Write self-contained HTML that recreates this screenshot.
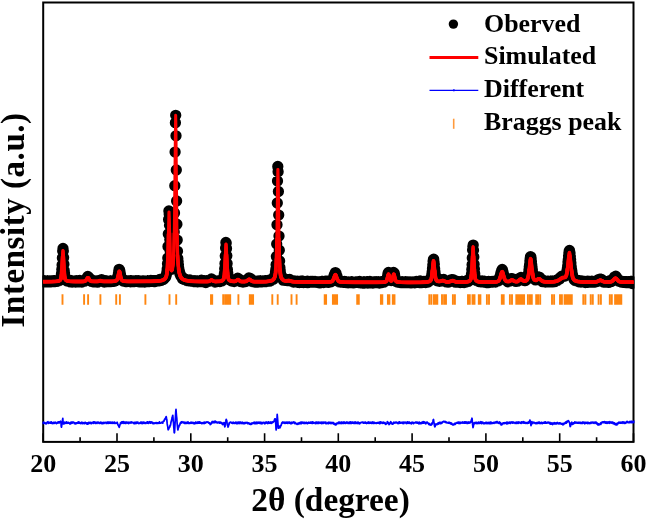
<!DOCTYPE html>
<html><head><meta charset="utf-8"><title>XRD Rietveld refinement</title>
<style>html,body{margin:0;padding:0;background:#fff;overflow:hidden;}svg{display:block;}</style></head>
<body><svg width="646" height="519" viewBox="0 0 646 519" font-family="'Liberation Serif','Times New Roman',serif" font-weight="bold" fill="#000">
<defs><clipPath id="plot"><rect x="42.4" y="1.5" width="592.1" height="441"/></clipPath></defs>
<rect width="646" height="519" fill="#fff"/>
<rect x="43.2" y="2.5" width="590.3" height="439.4" fill="none" stroke="#000" stroke-width="2"/>
<path d="M43.2 441.9v-8.7M117.0 441.9v-8.7M190.8 441.9v-8.7M264.6 441.9v-8.7M338.3 441.9v-8.7M412.1 441.9v-8.7M485.9 441.9v-8.7M559.7 441.9v-8.7M633.5 441.9v-8.7M80.1 441.9v-4.7M153.9 441.9v-4.7M227.7 441.9v-4.7M301.5 441.9v-4.7M375.2 441.9v-4.7M449.0 441.9v-4.7M522.8 441.9v-4.7M596.6 441.9v-4.7" stroke="#000" stroke-width="1.6" fill="none"/>
<g clip-path="url(#plot)">
<path d="M62.5 294.3V304.8M84.1 294.3V304.8M88.1 294.3V304.8M100.4 294.3V304.8M116.2 294.3V304.8M119.9 294.3V304.8M145.4 294.3V304.8M169.5 294.3V304.8M176.2 294.3V304.8M211.0 294.3V304.8M212.2 294.3V304.8M223.2 294.3V304.8M225.2 294.3V304.8M226.6 294.3V304.8M228.3 294.3V304.8M230.2 294.3V304.8M238.4 294.3V304.8M249.8 294.3V304.8M251.5 294.3V304.8M253.1 294.3V304.8M272.3 294.3V304.8M277.7 294.3V304.8M291.5 294.3V304.8M296.6 294.3V304.8M324.7 294.3V304.8M326.1 294.3V304.8M332.9 294.3V304.8M334.5 294.3V304.8M336.0 294.3V304.8M337.1 294.3V304.8M357.2 294.3V304.8M358.8 294.3V304.8M380.9 294.3V304.8M382.3 294.3V304.8M387.9 294.3V304.8M389.4 294.3V304.8M392.8 294.3V304.8M394.5 294.3V304.8M429.3 294.3V304.8M431.4 294.3V304.8M433.9 294.3V304.8M435.5 294.3V304.8M437.3 294.3V304.8M442.0 294.3V304.8M444.1 294.3V304.8M446.0 294.3V304.8M452.9 294.3V304.8M454.9 294.3V304.8M468.0 294.3V304.8M469.8 294.3V304.8M472.5 294.3V304.8M473.5 294.3V304.8M474.5 294.3V304.8M478.8 294.3V304.8M480.4 294.3V304.8M486.9 294.3V304.8M489.0 294.3V304.8M501.8 294.3V304.8M503.7 294.3V304.8M509.9 294.3V304.8M512.0 294.3V304.8M516.3 294.3V304.8M517.5 294.3V304.8M519.4 294.3V304.8M521.0 294.3V304.8M522.5 294.3V304.8M524.1 294.3V304.8M527.9 294.3V304.8M529.9 294.3V304.8M531.8 294.3V304.8M536.2 294.3V304.8M538.1 294.3V304.8M540.2 294.3V304.8M552.0 294.3V304.8M554.1 294.3V304.8M560.0 294.3V304.8M561.9 294.3V304.8M564.6 294.3V304.8M566.5 294.3V304.8M568.1 294.3V304.8M569.9 294.3V304.8M571.8 294.3V304.8M583.3 294.3V304.8M585.4 294.3V304.8M590.7 294.3V304.8M592.8 294.3V304.8M598.6 294.3V304.8M600.9 294.3V304.8M609.8 294.3V304.8M611.8 294.3V304.8M615.1 294.3V304.8M616.7 294.3V304.8M618.2 294.3V304.8M619.8 294.3V304.8M621.3 294.3V304.8" stroke="#ff8610" stroke-width="1.9" fill="none"/>
<path d="M43.2 281.8h0M43.5 281.2h0M43.8 281.7h0M44.1 281.1h0M44.4 281.3h0M44.7 281.1h0M45.0 281.1h0M45.3 281.3h0M45.6 281.2h0M45.9 281.8h0M46.2 281.8h0M46.4 281.5h0M46.7 281.2h0M47.0 281.8h0M47.3 280.8h0M47.6 280.9h0M47.9 281.8h0M48.2 281.8h0M48.5 281.9h0M48.8 281.5h0M49.1 281.1h0M49.4 281.3h0M49.7 281.7h0M50.0 281.2h0M50.3 281.2h0M50.6 281.0h0M50.9 281.1h0M51.2 281.8h0M51.5 281.6h0M51.8 281.0h0M52.1 281.1h0M52.3 281.2h0M52.6 281.6h0M52.9 281.0h0M53.2 281.3h0M53.5 280.6h0M53.8 280.9h0M54.1 281.5h0M54.4 281.6h0M54.7 280.9h0M55.0 281.0h0M55.3 281.5h0M55.6 281.1h0M55.9 281.0h0M56.2 281.3h0M56.5 281.2h0M56.8 281.4h0M57.1 281.3h0M57.4 280.7h0M57.7 280.8h0M58.0 280.8h0M58.3 280.2h0M58.5 280.2h0M58.8 280.8h0M59.1 279.7h0M59.4 280.4h0M59.7 279.9h0M60.0 279.4h0M60.3 279.2h0M60.6 278.6h0M60.9 277.9h0M61.2 275.9h0M61.5 273.4h0M61.8 269.6h0M62.1 264.9h0M62.4 257.9h0M62.7 251.0h0M63.0 248.5h0M63.3 251.1h0M63.6 257.6h0M63.9 264.3h0M64.2 270.5h0M64.5 272.9h0M64.7 276.3h0M65.0 277.7h0M65.3 278.2h0M65.6 279.0h0M65.9 279.3h0M66.2 279.8h0M66.5 280.4h0M66.8 279.7h0M67.1 280.9h0M67.4 280.4h0M67.7 281.2h0M68.0 280.9h0M68.3 281.3h0M68.6 281.1h0M68.9 281.3h0M69.2 281.0h0M69.5 280.8h0M69.8 281.3h0M70.1 281.4h0M70.4 281.9h0M70.6 280.5h0M70.9 281.2h0M71.2 281.6h0M71.5 280.8h0M71.8 281.2h0M72.1 282.0h0M72.4 281.8h0M72.7 281.0h0M73.0 281.8h0M73.3 281.8h0M73.6 281.6h0M73.9 281.5h0M74.2 281.5h0M74.5 281.1h0M74.8 281.2h0M75.1 281.6h0M75.4 281.4h0M75.7 282.0h0M76.0 281.3h0M76.3 280.6h0M76.6 281.3h0M76.8 281.5h0M77.1 281.5h0M77.4 281.4h0M77.7 281.1h0M78.0 281.9h0M78.3 281.2h0M78.6 281.7h0M78.9 281.3h0M79.2 281.0h0M79.5 281.9h0M79.8 280.5h0M80.1 281.1h0M80.4 281.5h0M80.7 281.2h0M81.0 281.6h0M81.3 281.3h0M81.6 281.2h0M81.9 282.1h0M82.2 281.2h0M82.5 281.2h0M82.8 280.9h0M83.0 281.0h0M83.3 281.4h0M83.6 281.4h0M83.9 281.1h0M84.2 280.8h0M84.5 281.2h0M84.8 280.2h0M85.1 280.5h0M85.4 280.2h0M85.7 279.7h0M86.0 279.6h0M86.3 278.8h0M86.6 278.2h0M86.9 278.5h0M87.2 277.5h0M87.5 277.2h0M87.8 276.5h0M88.1 276.8h0M88.4 277.0h0M88.7 277.7h0M88.9 278.7h0M89.2 278.4h0M89.5 279.1h0M89.8 279.5h0M90.1 278.7h0M90.4 279.8h0M90.7 280.6h0M91.0 281.0h0M91.3 280.7h0M91.6 281.4h0M91.9 281.5h0M92.2 281.0h0M92.5 281.7h0M92.8 281.8h0M93.1 281.4h0M93.4 280.9h0M93.7 281.8h0M94.0 281.2h0M94.3 281.2h0M94.6 281.4h0M94.9 281.1h0M95.1 281.7h0M95.4 281.6h0M95.7 281.8h0M96.0 281.5h0M96.3 281.0h0M96.6 281.3h0M96.9 281.6h0M97.2 281.1h0M97.5 282.2h0M97.8 281.1h0M98.1 280.9h0M98.4 281.4h0M98.7 281.1h0M99.0 280.7h0M99.3 280.5h0M99.6 280.5h0M99.9 280.6h0M100.2 280.5h0M100.5 280.1h0M100.8 280.4h0M101.0 280.7h0M101.3 280.8h0M101.6 279.6h0M101.9 280.5h0M102.2 280.7h0M102.5 281.0h0M102.8 281.2h0M103.1 281.6h0M103.4 281.5h0M103.7 281.3h0M104.0 281.3h0M104.3 282.0h0M104.6 281.1h0M104.9 281.5h0M105.2 281.9h0M105.5 281.5h0M105.8 280.6h0M106.1 281.5h0M106.4 281.2h0M106.7 281.3h0M107.0 281.7h0M107.2 281.5h0M107.5 281.3h0M107.8 281.7h0M108.1 281.5h0M108.4 281.4h0M108.7 281.4h0M109.0 281.4h0M109.3 281.2h0M109.6 281.2h0M109.9 281.3h0M110.2 281.0h0M110.5 280.8h0M110.8 281.7h0M111.1 281.2h0M111.4 281.2h0M111.7 281.2h0M112.0 281.2h0M112.3 281.2h0M112.6 281.2h0M112.9 280.9h0M113.2 281.4h0M113.4 280.8h0M113.7 281.4h0M114.0 280.3h0M114.3 280.6h0M114.6 281.2h0M114.9 280.7h0M115.2 280.5h0M115.5 280.7h0M115.8 280.1h0M116.1 280.3h0M116.4 279.3h0M116.7 279.6h0M117.0 279.0h0M117.3 278.8h0M117.6 278.0h0M117.9 276.2h0M118.2 275.5h0M118.5 273.1h0M118.8 270.8h0M119.1 269.3h0M119.3 270.1h0M119.6 270.1h0M119.9 271.3h0M120.2 273.0h0M120.5 274.6h0M120.8 276.9h0M121.1 277.6h0M121.4 279.2h0M121.7 279.2h0M122.0 278.9h0M122.3 280.3h0M122.6 280.1h0M122.9 280.4h0M123.2 281.1h0M123.5 280.6h0M123.8 281.2h0M124.1 280.8h0M124.4 280.6h0M124.7 281.1h0M125.0 280.8h0M125.3 281.5h0M125.5 281.4h0M125.8 281.1h0M126.1 281.3h0M126.4 281.3h0M126.7 281.1h0M127.0 281.5h0M127.3 281.1h0M127.6 281.4h0M127.9 280.9h0M128.2 281.3h0M128.5 281.4h0M128.8 281.0h0M129.1 281.1h0M129.4 281.1h0M129.7 281.5h0M130.0 281.0h0M130.3 281.4h0M130.6 281.8h0M130.9 281.4h0M131.2 280.7h0M131.4 281.3h0M131.7 281.7h0M132.0 281.2h0M132.3 281.7h0M132.6 281.5h0M132.9 281.4h0M133.2 281.2h0M133.5 281.1h0M133.8 281.2h0M134.1 281.3h0M134.4 281.5h0M134.7 281.5h0M135.0 281.2h0M135.3 281.3h0M135.6 281.4h0M135.9 280.7h0M136.2 281.0h0M136.5 281.0h0M136.8 281.2h0M137.1 281.2h0M137.4 281.2h0M137.6 281.0h0M137.9 281.5h0M138.2 281.4h0M138.5 280.7h0M138.8 281.3h0M139.1 280.9h0M139.4 281.9h0M139.7 281.1h0M140.0 281.2h0M140.3 281.3h0M140.6 281.2h0M140.9 281.3h0M141.2 281.8h0M141.5 281.4h0M141.8 281.6h0M142.1 281.7h0M142.4 280.9h0M142.7 281.9h0M143.0 281.5h0M143.3 281.6h0M143.6 281.0h0M143.8 281.5h0M144.1 281.4h0M144.4 281.1h0M144.7 282.0h0M145.0 281.4h0M145.3 281.2h0M145.6 281.3h0M145.9 281.5h0M146.2 281.6h0M146.5 281.4h0M146.8 281.6h0M147.1 281.7h0M147.4 280.8h0M147.7 281.0h0M148.0 280.9h0M148.3 281.2h0M148.6 281.7h0M148.9 281.4h0M149.2 280.8h0M149.5 281.0h0M149.7 281.5h0M150.0 280.9h0M150.3 281.1h0M150.6 281.2h0M150.9 280.4h0M151.2 281.3h0M151.5 281.2h0M151.8 281.2h0M152.1 280.7h0M152.4 280.8h0M152.7 280.8h0M153.0 281.1h0M153.3 281.0h0M153.6 281.0h0M153.9 281.6h0M154.2 281.4h0M154.5 280.7h0M154.8 280.7h0M155.1 281.5h0M155.4 280.7h0M155.7 281.3h0M155.9 281.3h0M156.2 280.6h0M156.5 280.6h0M156.8 280.7h0M157.1 280.4h0M157.4 280.3h0M157.7 280.5h0M158.0 280.9h0M158.3 280.4h0M158.6 280.4h0M158.9 280.3h0M159.2 279.9h0M159.5 280.8h0M159.8 279.5h0M160.1 280.0h0M160.4 280.3h0M160.7 279.6h0M161.0 280.2h0M161.3 280.4h0M161.6 279.5h0M161.9 279.8h0M162.1 279.2h0M162.4 279.7h0M162.7 279.4h0M163.0 279.3h0M163.3 279.5h0M163.6 279.0h0M163.9 279.1h0M164.2 278.6h0M164.5 277.7h0M164.8 277.9h0M165.1 277.6h0M165.4 276.5h0M165.7 277.0h0M166.0 275.8h0M166.3 275.1h0M166.6 273.4h0M166.9 271.9h0M167.2 269.0h0M167.5 263.8h0M167.8 258.0h0M168.0 246.4h0M168.3 234.0h0M168.6 219.4h0M168.9 210.9h0M169.2 214.0h0M169.5 225.3h0M169.8 239.5h0M170.1 250.8h0M170.4 259.9h0M170.7 263.3h0M171.0 267.5h0M171.3 268.3h0M171.6 269.3h0M171.9 268.0h0M172.2 267.8h0M172.5 266.0h0M172.8 264.6h0M173.1 262.0h0M173.4 259.1h0M173.7 253.6h0M174.0 245.0h0M174.2 231.9h0M174.5 212.9h0M174.8 185.7h0M175.1 152.1h0M175.4 122.7h0M175.7 115.3h0M176.0 135.8h0M176.3 169.9h0M176.6 201.0h0M176.9 224.2h0M177.2 240.1h0M177.5 251.3h0M177.8 258.5h0M178.1 261.6h0M178.4 264.8h0M178.7 268.1h0M179.0 270.0h0M179.3 270.9h0M179.6 272.2h0M179.9 273.7h0M180.1 273.9h0M180.4 275.1h0M180.7 275.6h0M181.0 275.8h0M181.3 276.5h0M181.6 276.4h0M181.9 277.1h0M182.2 276.9h0M182.5 278.7h0M182.8 278.7h0M183.1 278.8h0M183.4 278.7h0M183.7 279.1h0M184.0 279.4h0M184.3 279.5h0M184.6 279.6h0M184.9 279.1h0M185.2 279.7h0M185.5 279.4h0M185.8 279.3h0M186.1 279.4h0M186.3 280.1h0M186.6 280.4h0M186.9 279.6h0M187.2 280.7h0M187.5 280.7h0M187.8 280.1h0M188.1 280.2h0M188.4 280.4h0M188.7 280.8h0M189.0 280.3h0M189.3 280.1h0M189.6 280.7h0M189.9 279.9h0M190.2 280.7h0M190.5 281.1h0M190.8 280.8h0M191.1 281.0h0M191.4 281.0h0M191.7 281.1h0M192.0 280.9h0M192.3 280.6h0M192.5 280.8h0M192.8 280.9h0M193.1 281.4h0M193.4 281.5h0M193.7 281.1h0M194.0 280.7h0M194.3 280.8h0M194.6 281.0h0M194.9 281.6h0M195.2 281.2h0M195.5 281.1h0M195.8 280.9h0M196.1 281.4h0M196.4 281.2h0M196.7 281.1h0M197.0 281.2h0M197.3 281.8h0M197.6 281.1h0M197.9 281.8h0M198.2 281.7h0M198.4 281.2h0M198.7 281.6h0M199.0 281.2h0M199.3 281.0h0M199.6 281.2h0M199.9 281.0h0M200.2 281.5h0M200.5 281.3h0M200.8 281.5h0M201.1 281.6h0M201.4 280.2h0M201.7 281.4h0M202.0 280.7h0M202.3 281.4h0M202.6 281.0h0M202.9 281.4h0M203.2 281.8h0M203.5 280.7h0M203.8 281.4h0M204.1 281.3h0M204.4 280.7h0M204.6 281.6h0M204.9 281.4h0M205.2 281.2h0M205.5 281.1h0M205.8 282.5h0M206.1 281.2h0M206.4 280.7h0M206.7 281.0h0M207.0 281.2h0M207.3 281.2h0M207.6 281.2h0M207.9 280.9h0M208.2 281.4h0M208.5 281.0h0M208.8 280.6h0M209.1 280.6h0M209.4 280.6h0M209.7 280.8h0M210.0 280.5h0M210.3 279.9h0M210.6 279.8h0M210.8 279.6h0M211.1 280.0h0M211.4 279.0h0M211.7 279.5h0M212.0 279.7h0M212.3 279.4h0M212.6 280.1h0M212.9 280.3h0M213.2 280.3h0M213.5 280.9h0M213.8 281.2h0M214.1 281.4h0M214.4 281.0h0M214.7 281.2h0M215.0 282.0h0M215.3 280.8h0M215.6 281.3h0M215.9 281.5h0M216.2 281.3h0M216.5 281.4h0M216.7 281.3h0M217.0 281.5h0M217.3 281.6h0M217.6 281.1h0M217.9 281.2h0M218.2 281.1h0M218.5 281.0h0M218.8 281.1h0M219.1 280.6h0M219.4 281.2h0M219.7 281.5h0M220.0 281.5h0M220.3 281.2h0M220.6 280.4h0M220.9 281.1h0M221.2 280.3h0M221.5 280.4h0M221.8 280.9h0M222.1 279.7h0M222.4 280.1h0M222.7 279.6h0M222.9 279.1h0M223.2 278.4h0M223.5 278.2h0M223.8 277.0h0M224.1 276.0h0M224.4 273.5h0M224.7 268.7h0M225.0 263.4h0M225.3 256.1h0M225.6 248.0h0M225.9 242.5h0M226.2 242.9h0M226.5 248.4h0M226.8 255.7h0M227.1 263.4h0M227.4 269.4h0M227.7 272.7h0M228.0 275.3h0M228.3 277.7h0M228.6 278.6h0M228.8 278.2h0M229.1 278.7h0M229.4 279.7h0M229.7 279.4h0M230.0 280.0h0M230.3 280.1h0M230.6 280.6h0M230.9 279.6h0M231.2 279.9h0M231.5 280.3h0M231.8 281.1h0M232.1 280.8h0M232.4 280.3h0M232.7 281.1h0M233.0 281.2h0M233.3 280.9h0M233.6 280.9h0M233.9 281.2h0M234.2 281.5h0M234.5 281.1h0M234.8 281.2h0M235.0 280.9h0M235.3 280.7h0M235.6 280.4h0M235.9 280.6h0M236.2 280.1h0M236.5 279.9h0M236.8 279.9h0M237.1 279.5h0M237.4 279.3h0M237.7 278.2h0M238.0 278.9h0M238.3 278.6h0M238.6 278.7h0M238.9 279.0h0M239.2 280.1h0M239.5 280.3h0M239.8 280.1h0M240.1 280.2h0M240.4 280.8h0M240.7 280.8h0M241.0 281.7h0M241.2 280.7h0M241.5 280.6h0M241.8 281.2h0M242.1 281.3h0M242.4 281.4h0M242.7 281.6h0M243.0 282.1h0M243.3 281.2h0M243.6 281.2h0M243.9 280.7h0M244.2 281.4h0M244.5 281.6h0M244.8 281.2h0M245.1 281.6h0M245.4 281.2h0M245.7 281.6h0M246.0 281.0h0M246.3 280.4h0M246.6 280.3h0M246.9 279.8h0M247.1 279.4h0M247.4 279.8h0M247.7 279.7h0M248.0 279.7h0M248.3 278.7h0M248.6 278.4h0M248.9 277.9h0M249.2 278.6h0M249.5 278.4h0M249.8 278.2h0M250.1 279.0h0M250.4 279.2h0M250.7 278.7h0M251.0 280.0h0M251.3 280.1h0M251.6 280.2h0M251.9 280.4h0M252.2 281.4h0M252.5 281.5h0M252.8 281.7h0M253.1 280.8h0M253.3 281.1h0M253.6 281.7h0M253.9 281.0h0M254.2 281.2h0M254.5 280.8h0M254.8 282.1h0M255.1 281.9h0M255.4 281.7h0M255.7 281.6h0M256.0 281.4h0M256.3 281.4h0M256.6 281.8h0M256.9 281.3h0M257.2 282.0h0M257.5 281.4h0M257.8 281.2h0M258.1 282.0h0M258.4 281.5h0M258.7 281.7h0M259.0 281.4h0M259.2 280.8h0M259.5 281.7h0M259.8 281.1h0M260.1 281.9h0M260.4 281.0h0M260.7 280.9h0M261.0 281.6h0M261.3 281.7h0M261.6 281.5h0M261.9 281.1h0M262.2 281.8h0M262.5 281.0h0M262.8 281.3h0M263.1 281.2h0M263.4 281.3h0M263.7 281.7h0M264.0 281.2h0M264.3 281.6h0M264.6 281.6h0M264.9 280.8h0M265.2 280.9h0M265.4 281.2h0M265.7 281.1h0M266.0 281.4h0M266.3 280.6h0M266.6 281.5h0M266.9 281.4h0M267.2 281.1h0M267.5 280.6h0M267.8 281.1h0M268.1 280.8h0M268.4 281.2h0M268.7 280.9h0M269.0 281.1h0M269.3 280.6h0M269.6 281.2h0M269.9 279.8h0M270.2 280.2h0M270.5 280.6h0M270.8 279.8h0M271.1 280.5h0M271.4 279.6h0M271.6 280.0h0M271.9 279.4h0M272.2 279.4h0M272.5 279.4h0M272.8 279.0h0M273.1 278.6h0M273.4 279.2h0M273.7 278.0h0M274.0 277.1h0M274.3 277.2h0M274.6 276.4h0M274.9 275.6h0M275.2 274.5h0M275.5 271.7h0M275.8 269.6h0M276.1 264.8h0M276.4 256.4h0M276.7 243.9h0M277.0 224.8h0M277.3 203.0h0M277.5 181.1h0M277.8 166.5h0M278.1 171.7h0M278.4 191.5h0M278.7 215.1h0M279.0 236.1h0M279.3 250.2h0M279.6 260.9h0M279.9 267.4h0M280.2 270.3h0M280.5 273.1h0M280.8 275.2h0M281.1 276.1h0M281.4 276.7h0M281.7 276.3h0M282.0 277.7h0M282.3 278.3h0M282.6 278.5h0M282.9 278.9h0M283.2 280.2h0M283.5 279.3h0M283.7 279.3h0M284.0 279.8h0M284.3 279.8h0M284.6 279.9h0M284.9 280.1h0M285.2 280.4h0M285.5 280.3h0M285.8 279.8h0M286.1 280.2h0M286.4 280.4h0M286.7 280.0h0M287.0 280.5h0M287.3 280.3h0M287.6 279.7h0M287.9 280.0h0M288.2 280.6h0M288.5 280.4h0M288.8 279.8h0M289.1 280.2h0M289.4 279.7h0M289.7 279.5h0M289.9 280.4h0M290.2 280.4h0M290.5 280.6h0M290.8 280.6h0M291.1 280.9h0M291.4 280.7h0M291.7 281.2h0M292.0 281.4h0M292.3 281.2h0M292.6 281.6h0M292.9 280.7h0M293.2 281.1h0M293.5 282.0h0M293.8 282.1h0M294.1 281.6h0M294.4 281.5h0M294.7 281.2h0M295.0 281.7h0M295.3 281.9h0M295.6 281.1h0M295.8 281.9h0M296.1 281.9h0M296.4 281.9h0M296.7 281.3h0M297.0 281.9h0M297.3 281.2h0M297.6 282.3h0M297.9 281.8h0M298.2 281.4h0M298.5 282.3h0M298.8 282.2h0M299.1 281.6h0M299.4 282.6h0M299.7 281.5h0M300.0 281.9h0M300.3 282.3h0M300.6 281.1h0M300.9 282.2h0M301.2 281.8h0M301.5 281.9h0M301.8 281.5h0M302.0 282.0h0M302.3 281.5h0M302.6 281.5h0M302.9 281.7h0M303.2 281.5h0M303.5 282.5h0M303.8 281.4h0M304.1 281.6h0M304.4 281.8h0M304.7 281.9h0M305.0 282.2h0M305.3 282.2h0M305.6 281.8h0M305.9 281.8h0M306.2 282.0h0M306.5 282.2h0M306.8 282.2h0M307.1 281.8h0M307.4 281.2h0M307.7 282.7h0M307.9 282.3h0M308.2 282.1h0M308.5 282.1h0M308.8 281.8h0M309.1 281.6h0M309.4 281.9h0M309.7 281.9h0M310.0 281.8h0M310.3 281.5h0M310.6 281.9h0M310.9 282.2h0M311.2 281.8h0M311.5 282.0h0M311.8 281.3h0M312.1 281.9h0M312.4 282.0h0M312.7 281.6h0M313.0 281.4h0M313.3 282.1h0M313.6 281.7h0M313.9 282.2h0M314.1 281.9h0M314.4 282.2h0M314.7 281.9h0M315.0 281.5h0M315.3 282.0h0M315.6 281.9h0M315.9 282.2h0M316.2 281.9h0M316.5 281.9h0M316.8 282.3h0M317.1 282.4h0M317.4 282.3h0M317.7 282.4h0M318.0 282.2h0M318.3 282.3h0M318.6 282.3h0M318.9 282.2h0M319.2 282.0h0M319.5 282.1h0M319.8 282.9h0M320.1 282.0h0M320.3 281.9h0M320.6 281.9h0M320.9 282.0h0M321.2 282.1h0M321.5 281.6h0M321.8 281.3h0M322.1 282.1h0M322.4 281.4h0M322.7 282.1h0M323.0 282.1h0M323.3 282.4h0M323.6 282.6h0M323.9 282.1h0M324.2 281.8h0M324.5 281.6h0M324.8 281.7h0M325.1 282.0h0M325.4 281.2h0M325.7 282.0h0M326.0 281.9h0M326.2 282.2h0M326.5 281.8h0M326.8 281.9h0M327.1 281.6h0M327.4 281.7h0M327.7 281.2h0M328.0 281.9h0M328.3 282.4h0M328.6 281.9h0M328.9 281.9h0M329.2 281.4h0M329.5 282.2h0M329.8 281.4h0M330.1 281.9h0M330.4 281.6h0M330.7 281.2h0M331.0 281.8h0M331.3 281.3h0M331.6 281.2h0M331.9 281.1h0M332.2 280.6h0M332.4 280.1h0M332.7 280.0h0M333.0 279.1h0M333.3 278.5h0M333.6 277.4h0M333.9 276.2h0M334.2 275.5h0M334.5 274.6h0M334.8 274.0h0M335.1 273.8h0M335.4 272.6h0M335.7 273.4h0M336.0 273.2h0M336.3 274.5h0M336.6 275.6h0M336.9 276.0h0M337.2 277.0h0M337.5 278.6h0M337.8 279.3h0M338.1 279.8h0M338.3 280.0h0M338.6 281.4h0M338.9 280.9h0M339.2 280.9h0M339.5 281.9h0M339.8 281.7h0M340.1 281.4h0M340.4 282.0h0M340.7 281.7h0M341.0 281.9h0M341.3 281.9h0M341.6 281.4h0M341.9 282.2h0M342.2 281.9h0M342.5 281.5h0M342.8 281.7h0M343.1 282.3h0M343.4 281.8h0M343.7 282.0h0M344.0 282.2h0M344.3 282.1h0M344.5 281.5h0M344.8 282.3h0M345.1 282.4h0M345.4 282.4h0M345.7 282.6h0M346.0 282.2h0M346.3 282.4h0M346.6 282.7h0M346.9 282.0h0M347.2 282.7h0M347.5 282.7h0M347.8 282.4h0M348.1 282.8h0M348.4 282.4h0M348.7 281.8h0M349.0 282.6h0M349.3 282.3h0M349.6 282.3h0M349.9 282.2h0M350.2 282.6h0M350.5 282.4h0M350.7 281.9h0M351.0 282.4h0M351.3 282.4h0M351.6 281.9h0M351.9 282.0h0M352.2 282.1h0M352.5 282.0h0M352.8 282.3h0M353.1 282.6h0M353.4 282.9h0M353.7 282.6h0M354.0 282.6h0M354.3 282.6h0M354.6 282.7h0M354.9 282.1h0M355.2 282.5h0M355.5 282.3h0M355.8 282.2h0M356.1 282.1h0M356.4 282.1h0M356.6 282.1h0M356.9 281.8h0M357.2 282.4h0M357.5 282.2h0M357.8 282.3h0M358.1 282.4h0M358.4 282.5h0M358.7 282.0h0M359.0 282.2h0M359.3 281.7h0M359.6 281.5h0M359.9 281.6h0M360.2 282.8h0M360.5 281.6h0M360.8 282.4h0M361.1 282.8h0M361.4 282.1h0M361.7 282.8h0M362.0 282.9h0M362.3 282.6h0M362.6 283.1h0M362.8 282.5h0M363.1 282.0h0M363.4 282.5h0M363.7 282.1h0M364.0 281.8h0M364.3 281.8h0M364.6 283.1h0M364.9 282.1h0M365.2 282.3h0M365.5 282.0h0M365.8 282.3h0M366.1 282.2h0M366.4 282.1h0M366.7 281.9h0M367.0 281.8h0M367.3 282.0h0M367.6 282.4h0M367.9 283.0h0M368.2 282.7h0M368.5 282.9h0M368.8 282.5h0M369.0 282.3h0M369.3 281.8h0M369.6 282.3h0M369.9 281.5h0M370.2 282.2h0M370.5 282.9h0M370.8 282.4h0M371.1 282.7h0M371.4 282.2h0M371.7 281.8h0M372.0 282.1h0M372.3 282.2h0M372.6 282.7h0M372.9 283.0h0M373.2 282.0h0M373.5 282.2h0M373.8 282.2h0M374.1 282.2h0M374.4 281.9h0M374.7 282.3h0M374.9 282.4h0M375.2 282.4h0M375.5 281.9h0M375.8 282.2h0M376.1 281.7h0M376.4 282.6h0M376.7 281.9h0M377.0 282.2h0M377.3 282.1h0M377.6 282.1h0M377.9 281.9h0M378.2 281.6h0M378.5 282.8h0M378.8 282.3h0M379.1 282.3h0M379.4 283.0h0M379.7 282.2h0M380.0 282.4h0M380.3 282.2h0M380.6 282.6h0M380.9 282.3h0M381.1 282.3h0M381.4 282.0h0M381.7 282.2h0M382.0 282.5h0M382.3 281.3h0M382.6 282.0h0M382.9 281.9h0M383.2 281.9h0M383.5 281.3h0M383.8 282.2h0M384.1 281.5h0M384.4 281.7h0M384.7 281.5h0M385.0 281.0h0M385.3 281.3h0M385.6 280.7h0M385.9 280.7h0M386.2 280.6h0M386.5 280.2h0M386.8 279.6h0M387.0 278.5h0M387.3 278.1h0M387.6 276.1h0M387.9 274.0h0M388.2 273.0h0M388.5 272.4h0M388.8 273.1h0M389.1 274.1h0M389.4 275.5h0M389.7 277.7h0M390.0 278.3h0M390.3 279.0h0M390.6 279.6h0M390.9 280.0h0M391.2 280.6h0M391.5 280.2h0M391.8 280.1h0M392.1 278.1h0M392.4 278.4h0M392.7 277.5h0M393.0 276.5h0M393.2 274.4h0M393.5 272.5h0M393.8 272.9h0M394.1 273.0h0M394.4 273.8h0M394.7 275.7h0M395.0 277.7h0M395.3 279.0h0M395.6 279.8h0M395.9 279.9h0M396.2 281.6h0M396.5 280.7h0M396.8 281.3h0M397.1 281.0h0M397.4 282.1h0M397.7 281.9h0M398.0 282.1h0M398.3 281.9h0M398.6 281.9h0M398.9 282.0h0M399.2 281.3h0M399.4 282.4h0M399.7 282.4h0M400.0 281.9h0M400.3 282.1h0M400.6 282.2h0M400.9 282.7h0M401.2 282.3h0M401.5 282.2h0M401.8 282.0h0M402.1 281.7h0M402.4 282.0h0M402.7 282.2h0M403.0 282.1h0M403.3 282.3h0M403.6 282.5h0M403.9 282.4h0M404.2 282.4h0M404.5 282.5h0M404.8 282.3h0M405.1 282.3h0M405.3 282.4h0M405.6 281.7h0M405.9 282.7h0M406.2 281.8h0M406.5 282.6h0M406.8 282.3h0M407.1 282.7h0M407.4 282.3h0M407.7 282.0h0M408.0 282.7h0M408.3 282.4h0M408.6 282.3h0M408.9 282.3h0M409.2 282.7h0M409.5 282.6h0M409.8 282.4h0M410.1 281.8h0M410.4 282.2h0M410.7 282.3h0M411.0 282.9h0M411.3 282.4h0M411.5 282.3h0M411.8 282.7h0M412.1 282.3h0M412.4 282.3h0M412.7 282.4h0M413.0 281.8h0M413.3 282.6h0M413.6 282.4h0M413.9 282.2h0M414.2 281.9h0M414.5 282.4h0M414.8 282.8h0M415.1 282.1h0M415.4 281.9h0M415.7 282.4h0M416.0 281.7h0M416.3 281.5h0M416.6 282.1h0M416.9 282.0h0M417.2 282.2h0M417.5 282.1h0M417.7 282.4h0M418.0 282.2h0M418.3 282.0h0M418.6 282.1h0M418.9 282.4h0M419.2 282.6h0M419.5 282.5h0M419.8 282.5h0M420.1 281.0h0M420.4 281.8h0M420.7 282.1h0M421.0 282.2h0M421.3 281.6h0M421.6 282.7h0M421.9 282.2h0M422.2 281.9h0M422.5 282.2h0M422.8 282.0h0M423.1 281.8h0M423.4 282.3h0M423.6 281.9h0M423.9 281.5h0M424.2 281.8h0M424.5 282.0h0M424.8 281.6h0M425.1 282.4h0M425.4 281.5h0M425.7 282.5h0M426.0 282.2h0M426.3 281.5h0M426.6 281.8h0M426.9 282.1h0M427.2 281.6h0M427.5 281.2h0M427.8 281.5h0M428.1 282.1h0M428.4 280.8h0M428.7 281.4h0M429.0 281.1h0M429.3 280.9h0M429.6 280.6h0M429.8 280.4h0M430.1 280.6h0M430.4 280.0h0M430.7 278.9h0M431.0 279.1h0M431.3 277.0h0M431.6 276.2h0M431.9 274.0h0M432.2 271.8h0M432.5 268.3h0M432.8 264.9h0M433.1 261.2h0M433.4 259.5h0M433.7 259.2h0M434.0 262.0h0M434.3 264.3h0M434.6 268.5h0M434.9 271.5h0M435.2 274.0h0M435.5 275.8h0M435.7 277.6h0M436.0 278.0h0M436.3 278.7h0M436.6 280.0h0M436.9 279.5h0M437.2 280.8h0M437.5 280.4h0M437.8 280.8h0M438.1 280.8h0M438.4 281.0h0M438.7 280.8h0M439.0 280.8h0M439.3 280.9h0M439.6 281.3h0M439.9 281.2h0M440.2 281.2h0M440.5 280.7h0M440.8 280.4h0M441.1 279.7h0M441.4 280.4h0M441.7 280.3h0M441.9 279.8h0M442.2 280.1h0M442.5 280.2h0M442.8 279.8h0M443.1 280.2h0M443.4 280.1h0M443.7 279.5h0M444.0 280.1h0M444.3 280.4h0M444.6 280.9h0M444.9 280.6h0M445.2 280.9h0M445.5 280.8h0M445.8 281.3h0M446.1 281.4h0M446.4 281.9h0M446.7 281.9h0M447.0 281.7h0M447.3 281.8h0M447.6 281.7h0M447.9 281.7h0M448.1 282.2h0M448.4 280.8h0M448.7 281.5h0M449.0 281.6h0M449.3 281.8h0M449.6 280.9h0M449.9 281.3h0M450.2 281.3h0M450.5 280.7h0M450.8 280.0h0M451.1 280.4h0M451.4 279.9h0M451.7 280.4h0M452.0 279.8h0M452.3 280.6h0M452.6 280.0h0M452.9 279.7h0M453.2 279.9h0M453.5 279.8h0M453.8 280.5h0M454.0 281.1h0M454.3 280.6h0M454.6 281.2h0M454.9 280.7h0M455.2 281.3h0M455.5 282.2h0M455.8 281.0h0M456.1 282.0h0M456.4 282.1h0M456.7 281.1h0M457.0 281.3h0M457.3 281.5h0M457.6 282.2h0M457.9 281.8h0M458.2 281.9h0M458.5 282.2h0M458.8 282.0h0M459.1 282.1h0M459.4 281.9h0M459.7 282.4h0M460.0 281.7h0M460.2 282.6h0M460.5 281.9h0M460.8 281.7h0M461.1 282.2h0M461.4 282.2h0M461.7 281.3h0M462.0 282.1h0M462.3 281.5h0M462.6 281.7h0M462.9 282.2h0M463.2 281.6h0M463.5 282.0h0M463.8 281.8h0M464.1 282.6h0M464.4 281.8h0M464.7 281.4h0M465.0 281.4h0M465.3 281.5h0M465.6 281.8h0M465.9 281.7h0M466.1 282.0h0M466.4 281.7h0M466.7 281.6h0M467.0 281.6h0M467.3 281.4h0M467.6 281.4h0M467.9 281.5h0M468.2 281.4h0M468.5 280.8h0M468.8 280.2h0M469.1 280.3h0M469.4 280.5h0M469.7 279.2h0M470.0 279.6h0M470.3 279.4h0M470.6 278.4h0M470.9 277.2h0M471.2 276.6h0M471.5 273.9h0M471.8 269.5h0M472.1 264.7h0M472.3 257.9h0M472.6 250.0h0M472.9 246.4h0M473.2 245.1h0M473.5 250.3h0M473.8 257.1h0M474.1 264.2h0M474.4 269.1h0M474.7 273.4h0M475.0 276.4h0M475.3 277.7h0M475.6 278.5h0M475.9 279.8h0M476.2 279.4h0M476.5 280.4h0M476.8 280.3h0M477.1 280.7h0M477.4 280.8h0M477.7 281.0h0M478.0 281.1h0M478.3 280.9h0M478.5 281.1h0M478.8 281.5h0M479.1 281.4h0M479.4 281.1h0M479.7 281.3h0M480.0 281.4h0M480.3 281.6h0M480.6 281.8h0M480.9 281.8h0M481.2 281.5h0M481.5 281.8h0M481.8 281.3h0M482.1 280.8h0M482.4 281.8h0M482.7 281.3h0M483.0 281.6h0M483.3 281.5h0M483.6 282.1h0M483.9 281.5h0M484.2 282.0h0M484.4 281.8h0M484.7 281.5h0M485.0 281.4h0M485.3 282.1h0M485.6 282.1h0M485.9 282.2h0M486.2 282.6h0M486.5 282.1h0M486.8 282.1h0M487.1 281.9h0M487.4 282.0h0M487.7 281.9h0M488.0 281.7h0M488.3 282.7h0M488.6 281.3h0M488.9 282.1h0M489.2 282.1h0M489.5 282.0h0M489.8 281.6h0M490.1 281.9h0M490.4 281.8h0M490.6 281.6h0M490.9 281.9h0M491.2 281.8h0M491.5 281.7h0M491.8 282.1h0M492.1 281.5h0M492.4 282.0h0M492.7 281.6h0M493.0 282.0h0M493.3 281.8h0M493.6 281.9h0M493.9 281.4h0M494.2 281.5h0M494.5 281.4h0M494.8 281.7h0M495.1 281.9h0M495.4 282.0h0M495.7 281.4h0M496.0 281.5h0M496.3 280.9h0M496.6 280.6h0M496.8 281.0h0M497.1 281.0h0M497.4 280.5h0M497.7 280.3h0M498.0 280.9h0M498.3 280.1h0M498.6 279.5h0M498.9 280.5h0M499.2 279.1h0M499.5 278.3h0M499.8 277.8h0M500.1 276.3h0M500.4 276.1h0M500.7 273.8h0M501.0 272.7h0M501.3 271.9h0M501.6 270.7h0M501.9 270.7h0M502.2 269.4h0M502.5 270.0h0M502.7 271.0h0M503.0 272.1h0M503.3 273.4h0M503.6 274.4h0M503.9 276.3h0M504.2 276.4h0M504.5 277.6h0M504.8 278.6h0M505.1 278.9h0M505.4 279.4h0M505.7 279.8h0M506.0 280.1h0M506.3 280.1h0M506.6 280.5h0M506.9 280.3h0M507.2 281.1h0M507.5 280.4h0M507.8 281.8h0M508.1 281.6h0M508.4 281.4h0M508.7 280.9h0M508.9 280.7h0M509.2 281.2h0M509.5 280.7h0M509.8 280.6h0M510.1 280.0h0M510.4 280.4h0M510.7 279.4h0M511.0 279.5h0M511.3 278.6h0M511.6 278.8h0M511.9 279.1h0M512.2 278.8h0M512.5 278.9h0M512.8 279.5h0M513.1 279.5h0M513.4 280.2h0M513.7 279.2h0M514.0 280.5h0M514.3 280.7h0M514.6 280.2h0M514.8 280.4h0M515.1 281.3h0M515.4 280.7h0M515.7 280.9h0M516.0 281.4h0M516.3 281.1h0M516.6 281.3h0M516.9 280.8h0M517.2 281.1h0M517.5 281.2h0M517.8 280.8h0M518.1 279.7h0M518.4 280.4h0M518.7 279.9h0M519.0 279.2h0M519.3 279.7h0M519.6 278.2h0M519.9 279.1h0M520.2 277.9h0M520.5 278.5h0M520.8 277.8h0M521.0 277.4h0M521.3 278.1h0M521.6 278.4h0M521.9 278.8h0M522.2 279.4h0M522.5 279.0h0M522.8 279.8h0M523.1 280.1h0M523.4 280.0h0M523.7 279.9h0M524.0 280.0h0M524.3 280.6h0M524.6 280.6h0M524.9 280.0h0M525.2 279.8h0M525.5 280.6h0M525.8 279.5h0M526.1 279.9h0M526.4 279.4h0M526.7 278.7h0M527.0 279.0h0M527.2 278.4h0M527.5 278.3h0M527.8 277.7h0M528.1 275.7h0M528.4 274.6h0M528.7 272.6h0M529.0 269.7h0M529.3 266.8h0M529.6 264.6h0M529.9 260.9h0M530.2 258.4h0M530.5 256.7h0M530.8 256.8h0M531.1 258.2h0M531.4 261.2h0M531.7 264.5h0M532.0 266.9h0M532.3 269.4h0M532.6 272.2h0M532.9 273.6h0M533.1 275.4h0M533.4 277.2h0M533.7 278.5h0M534.0 278.4h0M534.3 278.4h0M534.6 279.3h0M534.9 278.5h0M535.2 279.1h0M535.5 279.9h0M535.8 279.6h0M536.1 278.8h0M536.4 278.6h0M536.7 279.3h0M537.0 278.8h0M537.3 278.3h0M537.6 278.4h0M537.9 277.8h0M538.2 277.1h0M538.5 277.9h0M538.8 277.3h0M539.1 277.1h0M539.3 277.1h0M539.6 277.8h0M539.9 277.7h0M540.2 278.5h0M540.5 278.5h0M540.8 279.4h0M541.1 279.2h0M541.4 279.4h0M541.7 279.3h0M542.0 279.8h0M542.3 280.7h0M542.6 281.7h0M542.9 280.4h0M543.2 280.6h0M543.5 281.2h0M543.8 281.4h0M544.1 281.0h0M544.4 281.4h0M544.7 280.8h0M545.0 281.3h0M545.3 281.8h0M545.5 282.1h0M545.8 281.4h0M546.1 281.4h0M546.4 281.7h0M546.7 281.9h0M547.0 281.7h0M547.3 281.3h0M547.6 281.7h0M547.9 281.9h0M548.2 281.3h0M548.5 281.1h0M548.8 281.8h0M549.1 281.7h0M549.4 281.9h0M549.7 281.6h0M550.0 281.3h0M550.3 281.4h0M550.6 281.2h0M550.9 281.2h0M551.2 281.3h0M551.4 281.3h0M551.7 281.9h0M552.0 281.1h0M552.3 281.4h0M552.6 281.2h0M552.9 281.9h0M553.2 281.5h0M553.5 281.2h0M553.8 281.6h0M554.1 281.3h0M554.4 281.0h0M554.7 281.7h0M555.0 281.3h0M555.3 281.6h0M555.6 281.3h0M555.9 281.1h0M556.2 280.8h0M556.5 280.2h0M556.8 280.7h0M557.1 280.3h0M557.4 280.4h0M557.6 280.0h0M557.9 279.6h0M558.2 279.2h0M558.5 279.6h0M558.8 279.6h0M559.1 278.8h0M559.4 278.8h0M559.7 278.9h0M560.0 277.9h0M560.3 277.8h0M560.6 277.2h0M560.9 277.8h0M561.2 277.2h0M561.5 276.8h0M561.8 276.2h0M562.1 276.5h0M562.4 276.8h0M562.7 276.2h0M563.0 276.1h0M563.3 276.4h0M563.5 275.7h0M563.8 276.1h0M564.1 276.3h0M564.4 275.8h0M564.7 275.7h0M565.0 276.0h0M565.3 275.6h0M565.6 275.3h0M565.9 274.9h0M566.2 274.2h0M566.5 272.8h0M566.8 271.5h0M567.1 270.2h0M567.4 268.3h0M567.7 265.8h0M568.0 262.0h0M568.3 259.5h0M568.6 256.1h0M568.9 253.0h0M569.2 251.1h0M569.5 250.5h0M569.7 251.7h0M570.0 252.9h0M570.3 256.4h0M570.6 259.6h0M570.9 262.9h0M571.2 266.5h0M571.5 269.1h0M571.8 270.8h0M572.1 273.0h0M572.4 274.7h0M572.7 275.4h0M573.0 277.2h0M573.3 277.6h0M573.6 278.3h0M573.9 278.8h0M574.2 279.7h0M574.5 279.3h0M574.8 279.5h0M575.1 280.4h0M575.4 279.8h0M575.7 280.0h0M575.9 279.8h0M576.2 280.8h0M576.5 280.7h0M576.8 280.8h0M577.1 280.8h0M577.4 280.8h0M577.7 280.7h0M578.0 280.7h0M578.3 281.2h0M578.6 281.2h0M578.9 281.8h0M579.2 281.0h0M579.5 281.1h0M579.8 281.0h0M580.1 281.9h0M580.4 281.0h0M580.7 281.7h0M581.0 282.0h0M581.3 281.5h0M581.6 281.8h0M581.8 280.8h0M582.1 281.5h0M582.4 281.1h0M582.7 281.7h0M583.0 281.7h0M583.3 281.4h0M583.6 282.0h0M583.9 281.8h0M584.2 281.6h0M584.5 281.6h0M584.8 281.3h0M585.1 281.7h0M585.4 282.5h0M585.7 281.6h0M586.0 282.0h0M586.3 281.6h0M586.6 282.1h0M586.9 282.0h0M587.2 281.8h0M587.5 281.2h0M587.8 281.7h0M588.0 282.3h0M588.3 281.8h0M588.6 282.1h0M588.9 281.7h0M589.2 281.3h0M589.5 282.1h0M589.8 282.0h0M590.1 281.7h0M590.4 281.8h0M590.7 282.0h0M591.0 281.7h0M591.3 282.0h0M591.6 281.8h0M591.9 281.1h0M592.2 281.9h0M592.5 281.7h0M592.8 281.6h0M593.1 282.0h0M593.4 281.7h0M593.7 282.1h0M593.9 282.2h0M594.2 281.9h0M594.5 281.3h0M594.8 281.5h0M595.1 282.1h0M595.4 281.6h0M595.7 281.4h0M596.0 281.6h0M596.3 281.7h0M596.6 281.5h0M596.9 281.5h0M597.2 280.8h0M597.5 280.9h0M597.8 280.7h0M598.1 280.5h0M598.4 279.6h0M598.7 280.0h0M599.0 279.4h0M599.3 280.1h0M599.6 280.0h0M599.9 279.9h0M600.1 279.5h0M600.4 279.1h0M600.7 279.6h0M601.0 279.4h0M601.3 279.8h0M601.6 279.5h0M601.9 279.9h0M602.2 280.5h0M602.5 281.2h0M602.8 280.7h0M603.1 281.7h0M603.4 282.1h0M603.7 280.8h0M604.0 281.4h0M604.3 281.2h0M604.6 281.5h0M604.9 281.5h0M605.2 281.7h0M605.5 282.1h0M605.8 282.1h0M606.1 281.9h0M606.3 281.8h0M606.6 281.8h0M606.9 281.9h0M607.2 282.0h0M607.5 281.8h0M607.8 282.0h0M608.1 281.3h0M608.4 282.1h0M608.7 282.4h0M609.0 281.8h0M609.3 281.2h0M609.6 282.1h0M609.9 281.5h0M610.2 280.5h0M610.5 281.4h0M610.8 281.6h0M611.1 281.4h0M611.4 281.6h0M611.7 281.2h0M612.0 280.8h0M612.2 279.8h0M612.5 279.8h0M612.8 279.9h0M613.1 279.7h0M613.4 278.7h0M613.7 278.4h0M614.0 278.4h0M614.3 277.2h0M614.6 276.8h0M614.9 277.1h0M615.2 277.1h0M615.5 276.7h0M615.8 276.2h0M616.1 277.2h0M616.4 277.0h0M616.7 278.1h0M617.0 278.2h0M617.3 278.8h0M617.6 279.3h0M617.9 279.3h0M618.2 280.2h0M618.4 280.7h0M618.7 280.7h0M619.0 281.2h0M619.3 280.8h0M619.6 281.5h0M619.9 281.4h0M620.2 281.1h0M620.5 281.5h0M620.8 281.5h0M621.1 281.5h0M621.4 281.8h0M621.7 282.2h0M622.0 281.7h0M622.3 281.9h0M622.6 281.4h0M622.9 282.0h0M623.2 282.4h0M623.5 282.3h0M623.8 282.2h0M624.1 281.8h0M624.4 281.7h0M624.6 282.0h0M624.9 281.6h0M625.2 281.6h0M625.5 282.4h0M625.8 281.8h0M626.1 282.7h0M626.4 281.6h0M626.7 282.3h0M627.0 281.7h0M627.3 282.2h0M627.6 281.8h0M627.9 282.1h0M628.2 282.1h0M628.5 282.0h0M628.8 282.3h0M629.1 282.7h0M629.4 281.9h0M629.7 282.5h0M630.0 282.2h0M630.3 282.2h0M630.5 282.9h0M630.8 281.4h0M631.1 281.9h0M631.4 281.5h0M631.7 282.1h0M632.0 282.1h0M632.3 283.5h0M632.6 282.3h0M632.9 282.8h0M633.2 282.6h0M633.5 282.0h0" stroke="#000" stroke-width="11.3" stroke-linecap="round" fill="none"/>
<g stroke="#ff0000" stroke-linejoin="round" stroke-linecap="butt" fill="none">
<path d="M43.2 281.7 L52.5 281.5 L56.8 281.3 L58.1 281.1 L59.1 280.8 L59.9 280.4 L60.5 279.7 L60.9 278.7 L61.2 277.4 L61.6 273.5 L62.7 253.4 L63.0 250.7 L63.3 253.4 L64.2 271.4 L64.6 276.4 L65.0 278.7 L65.5 279.7 L66.2 280.4 L67.4 281.0 L69.5 281.3 L73.2 281.5 L80.4 281.5 L84.1 281.3 L85.0 281.1 L85.7 280.6 L86.3 279.9 L87.5 278.0 L87.9 277.8 L88.4 278.0 L89.5 279.9 L90.1 280.6 L90.9 281.1 L91.9 281.3 L94.3 281.4 L97.2 281.4 L98.2 281.3 L100.3 280.7 L102.5 281.3 L104.1 281.4 L111.4 281.4 L115.1 281.1 L116.4 280.6 L116.8 280.2 L117.3 279.5 L118.0 277.1 L119.1 271.9 L119.3 271.4 L119.6 271.9 L120.7 277.1 L121.4 279.5 L121.9 280.2 L122.3 280.6 L123.6 281.1 L126.6 281.3 L132.6 281.4 L144.7 281.4 L153.3 281.2 L157.3 281.0 L160.1 280.7 L162.1 280.3 L163.8 279.7 L164.5 279.2 L165.1 278.6 L165.7 277.8 L166.1 276.8 L166.7 274.5 L167.2 270.7 L167.6 262.5 L167.9 253.3 L168.8 214.9 L168.9 212.0 L169.1 211.9 L169.4 219.5 L170.1 251.5 L170.6 263.2 L170.9 267.3 L171.1 269.4 L171.4 270.3 L171.6 270.4 L171.9 270.1 L172.3 268.9 L172.6 267.3 L173.2 262.0 L173.7 254.3 L174.1 239.9 L174.5 213.4 L175.3 136.4 L175.6 115.3 L175.7 115.4 L175.9 123.1 L176.9 224.5 L177.3 246.5 L177.8 258.5 L178.1 263.3 L178.5 268.1 L179.1 272.0 L179.7 274.5 L180.4 276.4 L181.5 278.0 L182.8 279.2 L184.4 280.0 L187.1 280.7 L190.8 281.1 L196.2 281.4 L203.9 281.5 L207.2 281.5 L208.6 281.4 L209.5 281.1 L210.8 280.3 L211.4 280.1 L211.9 280.2 L213.1 280.9 L213.8 281.2 L214.7 281.4 L215.9 281.5 L218.5 281.4 L220.4 281.2 L221.8 280.8 L222.8 280.2 L223.4 279.5 L223.8 278.4 L224.1 277.0 L224.4 274.7 L225.0 265.5 L225.8 247.3 L226.0 244.2 L226.3 247.3 L227.1 265.5 L227.7 274.7 L228.0 277.0 L228.3 278.4 L228.7 279.5 L229.4 280.3 L230.3 280.8 L231.4 281.1 L233.0 281.3 L234.6 281.4 L235.3 281.2 L235.9 281.0 L237.6 279.8 L238.0 279.7 L238.4 279.8 L239.8 280.9 L240.7 281.3 L242.0 281.6 L244.3 281.6 L245.5 281.4 L246.4 281.1 L247.1 280.7 L248.6 279.5 L249.2 279.3 L249.8 279.5 L251.7 281.0 L252.5 281.3 L253.2 281.5 L256.4 281.7 L262.9 281.7 L267.4 281.5 L270.3 281.0 L272.2 280.4 L273.0 279.9 L273.6 279.3 L274.2 278.4 L274.6 277.5 L275.0 276.1 L275.3 274.7 L275.8 271.0 L276.2 262.9 L276.8 237.7 L277.7 174.1 L277.8 169.4 L278.0 169.4 L278.3 182.7 L279.2 246.0 L279.5 258.5 L279.9 269.0 L280.2 272.5 L280.5 274.7 L280.8 276.1 L281.2 277.5 L281.8 278.7 L282.4 279.4 L283.3 280.2 L284.3 280.6 L286.0 280.9 L288.9 280.6 L292.7 281.6 L297.0 281.9 L321.1 282.1 L327.0 282.0 L330.1 281.9 L331.7 281.5 L332.3 281.1 L332.7 280.6 L333.5 279.3 L334.8 275.6 L335.1 275.0 L335.4 274.8 L335.7 275.0 L336.0 275.6 L337.3 279.3 L338.1 280.6 L338.9 281.4 L340.3 281.9 L344.0 282.1 L351.9 282.2 L374.5 282.3 L382.6 282.2 L385.1 281.9 L385.9 281.6 L386.3 281.2 L386.8 280.5 L387.0 279.7 L388.1 275.4 L388.4 274.5 L388.5 274.3 L388.8 274.8 L389.7 278.5 L390.3 280.2 L390.9 280.8 L391.3 280.9 L391.6 280.7 L392.1 280.1 L392.4 279.4 L393.4 275.3 L393.7 274.5 L393.8 274.3 L394.1 274.8 L395.0 278.7 L395.6 280.5 L395.9 281.0 L396.3 281.5 L397.4 281.9 L398.7 282.1 L400.8 282.3 L409.2 282.4 L421.7 282.3 L427.2 281.9 L428.8 281.6 L430.0 281.1 L430.7 280.2 L431.2 279.2 L431.6 277.4 L431.9 275.6 L433.1 263.2 L433.4 261.1 L433.5 260.8 L433.7 261.1 L434.0 263.2 L434.9 273.0 L435.5 277.4 L435.7 278.7 L436.2 279.9 L436.6 280.6 L437.1 280.9 L438.1 281.4 L439.3 281.5 L440.3 281.3 L442.1 280.7 L442.8 280.6 L443.6 280.8 L445.6 281.7 L447.4 282.0 L449.3 281.8 L451.8 280.9 L452.6 280.7 L453.3 280.9 L455.7 281.8 L457.4 282.1 L463.2 282.1 L467.3 281.8 L469.0 281.3 L470.0 280.6 L470.4 280.0 L470.7 279.3 L471.2 277.4 L471.8 271.4 L472.8 249.5 L473.1 246.8 L473.4 249.5 L474.4 271.4 L475.0 277.4 L475.4 279.3 L476.0 280.4 L476.9 281.1 L478.4 281.7 L480.0 281.9 L482.2 282.0 L489.8 282.1 L495.2 281.9 L496.7 281.7 L497.7 281.4 L498.3 281.1 L498.8 280.7 L499.5 279.5 L500.2 277.5 L501.6 272.7 L501.9 272.0 L502.2 271.8 L502.5 272.0 L502.7 272.7 L504.1 277.5 L504.8 279.5 L505.6 280.6 L506.0 281.0 L506.6 281.3 L507.8 281.5 L509.1 281.4 L510.0 281.0 L511.5 280.1 L512.0 280.0 L512.6 280.1 L514.1 281.1 L514.8 281.4 L515.9 281.6 L516.9 281.6 L517.7 281.4 L518.2 281.0 L520.2 279.3 L520.8 279.1 L521.3 279.3 L522.8 280.5 L523.7 280.9 L524.7 281.1 L525.9 280.8 L526.8 280.2 L527.4 279.3 L527.8 278.3 L528.3 276.6 L529.0 271.7 L530.2 260.4 L530.5 258.9 L530.6 258.7 L530.8 258.9 L531.1 260.4 L532.3 271.7 L532.9 275.7 L533.6 278.6 L534.0 279.4 L534.5 279.9 L535.2 280.3 L536.1 280.3 L536.8 279.9 L538.3 278.9 L539.1 278.8 L539.8 279.1 L541.4 280.5 L542.2 281.0 L543.0 281.4 L544.2 281.7 L547.3 281.9 L552.0 281.8 L554.7 281.6 L556.6 281.2 L558.5 280.3 L562.1 277.9 L563.0 277.6 L564.4 277.5 L565.0 277.3 L565.6 276.8 L566.1 276.1 L566.6 274.2 L567.2 270.8 L567.8 265.8 L568.9 255.1 L569.2 253.0 L569.3 252.5 L569.5 252.4 L569.7 253.2 L570.0 255.3 L571.4 269.4 L572.3 275.5 L572.8 277.8 L573.4 279.1 L574.2 280.0 L575.2 280.7 L576.2 281.1 L577.4 281.4 L580.8 281.8 L586.4 282.0 L593.5 282.1 L595.4 282.0 L596.8 281.7 L597.8 281.3 L599.6 280.4 L600.3 280.2 L601.0 280.4 L603.0 281.4 L604.3 281.8 L606.2 282.0 L609.2 282.0 L610.8 281.8 L612.0 281.3 L613.0 280.5 L614.8 278.6 L615.2 278.3 L615.5 278.2 L615.8 278.3 L616.2 278.6 L617.9 280.4 L618.6 281.1 L619.5 281.6 L620.4 281.8 L621.7 282.0 L623.9 282.1 L633.5 282.2" stroke-width="2.9"/>
<path d="M43.2 281.7 L52.5 281.5 L56.8 281.3 L58.1 281.1 L59.1 280.8 L59.9 280.4 L60.5 279.7 L60.9 278.7 L61.2 277.4 L61.6 273.5 L62.7 253.4 L63.0 250.7 L63.3 253.4 L64.2 271.4 L64.6 276.4 L65.0 278.7 L65.5 279.7 L66.2 280.4 L67.4 281.0 L69.5 281.3 L73.2 281.5 L80.4 281.5 L84.1 281.3 L85.0 281.1 L85.7 280.6 L86.3 279.9 L87.5 278.0 L87.9 277.8 L88.4 278.0 L89.5 279.9 L90.1 280.6 L90.9 281.1 L91.9 281.3 L94.3 281.4 L97.2 281.4 L98.2 281.3 L100.3 280.7 L102.5 281.3 L104.1 281.4 L111.4 281.4 L115.1 281.1 L116.4 280.6 L116.8 280.2 L117.3 279.5 L118.0 277.1 L119.1 271.9 L119.3 271.4 L119.5 271.5 L119.8 272.5 L120.7 277.1 L121.3 279.2 L121.7 280.0 L122.2 280.5 L122.7 280.8 L123.5 281.0 L126.1 281.3 L131.2 281.4 L151.2 281.3 L158.8 280.9 L161.1 280.6 L162.9 280.1 L164.4 279.3 L164.9 278.8 L165.5 278.0 L166.3 276.4 L166.9 273.6 L167.3 268.6 L167.6 262.5 L168.3 233.8M169.7 232.8 L170.1 251.5 L170.6 263.2 L171.0 268.6 L171.3 270.0 L171.6 270.4 L171.9 270.1 L172.2 269.4 L172.6 267.3 L173.1 263.7 L173.4 259.9 L173.8 250.5 L174.2 232.7M177.1 233.4 L177.5 251.4 L178.1 263.3 L178.8 270.3 L179.4 273.4 L180.0 275.3 L180.7 277.0 L181.6 278.2 L182.7 279.1 L184.0 279.8 L185.6 280.4 L187.8 280.8 L190.6 281.1 L194.2 281.3 L202.0 281.5 L207.7 281.5 L209.2 281.2 L211.0 280.2 L211.4 280.1 L211.9 280.2 L213.2 281.0 L214.1 281.3 L215.4 281.5 L217.9 281.4 L219.8 281.3 L221.3 281.0 L222.4 280.5 L223.1 279.9 L223.5 279.2 L224.0 277.8 L224.3 276.0 L224.6 273.1 L225.0 265.5 L225.8 247.3 L226.0 244.2 L226.3 247.3 L227.1 265.5 L227.7 274.7 L228.0 277.0 L228.3 278.4 L228.7 279.5 L229.4 280.3 L230.3 280.8 L231.4 281.1 L233.0 281.3 L234.6 281.4 L235.3 281.2 L235.9 281.0 L237.6 279.8 L238.0 279.7 L238.4 279.8 L239.8 280.9 L240.7 281.3 L242.0 281.6 L244.3 281.6 L245.5 281.4 L246.4 281.1 L247.1 280.7 L248.6 279.5 L249.2 279.3 L249.8 279.5 L251.7 281.0 L252.8 281.4 L254.5 281.7 L258.5 281.7 L264.1 281.6 L268.0 281.4 L270.5 281.0 L272.2 280.4 L273.0 279.9 L273.6 279.3 L274.5 277.9 L275.2 275.5 L275.6 272.5 L275.9 269.0 L276.2 262.9 L276.8 237.7M279.0 237.7 L279.6 262.9 L279.9 269.0 L280.4 273.8 L280.9 276.6 L281.4 277.9 L282.0 278.9 L282.6 279.6 L283.3 280.2 L284.2 280.6 L285.2 280.8 L286.4 280.9 L288.9 280.6 L291.7 281.4 L292.9 281.6 L297.9 281.9 L321.8 282.1 L327.3 282.0 L330.2 281.8 L331.7 281.5 L332.3 281.1 L332.7 280.6 L333.5 279.3 L334.8 275.6 L335.1 275.0 L335.4 274.8 L335.7 275.0 L336.0 275.6 L337.3 279.3 L338.1 280.6 L338.9 281.4 L340.3 281.9 L344.0 282.1 L352.2 282.2 L374.8 282.3 L382.8 282.2 L385.3 281.8 L386.0 281.5 L386.5 281.0 L387.0 279.7 L388.1 275.4 L388.4 274.5 L388.5 274.3 L388.8 274.8 L389.7 278.5 L390.3 280.2 L390.9 280.8 L391.3 280.9 L391.6 280.7 L392.1 280.1 L392.4 279.4 L393.4 275.3 L393.7 274.5 L393.8 274.3 L394.1 274.8 L395.0 278.7 L395.6 280.5 L395.9 281.0 L396.3 281.5 L397.4 281.9 L398.7 282.1 L400.8 282.3 L409.2 282.4 L421.7 282.3 L427.2 281.9 L428.8 281.6 L430.0 281.1 L430.7 280.2 L431.2 279.2 L431.6 277.4 L431.9 275.6 L433.1 263.2 L433.4 261.1 L433.5 260.8 L433.7 261.1 L434.0 263.2 L434.9 273.0 L435.5 277.4 L435.7 278.7 L436.2 279.9 L436.6 280.6 L437.1 280.9 L438.1 281.4 L439.3 281.5 L440.3 281.3 L442.1 280.7 L442.8 280.6 L443.6 280.8 L445.6 281.7 L447.4 282.0 L449.3 281.8 L451.8 280.9 L452.6 280.7 L453.3 280.9 L455.7 281.8 L457.4 282.1 L463.2 282.1 L467.3 281.8 L469.0 281.3 L470.0 280.6 L470.4 280.0 L470.7 279.3 L471.2 277.4 L471.8 271.4 L472.8 249.5 L473.1 246.8 L473.4 249.5 L474.4 271.4 L475.0 277.4 L475.4 279.3 L476.0 280.4 L476.9 281.1 L478.4 281.7 L480.0 281.9 L482.2 282.0 L489.8 282.1 L495.2 281.9 L496.7 281.7 L497.7 281.4 L498.3 281.1 L498.8 280.7 L499.5 279.5 L500.2 277.5 L501.6 272.7 L501.9 272.0 L502.2 271.8 L502.5 272.0 L502.7 272.7 L504.1 277.5 L504.8 279.5 L505.6 280.6 L506.0 281.0 L506.6 281.3 L507.8 281.5 L509.1 281.4 L510.0 281.0 L511.5 280.1 L512.0 280.0 L512.6 280.1 L514.1 281.1 L514.8 281.4 L515.9 281.6 L516.9 281.6 L517.7 281.4 L518.2 281.0 L520.2 279.3 L520.8 279.1 L521.3 279.3 L522.8 280.5 L523.7 280.9 L524.7 281.1 L525.9 280.8 L526.8 280.2 L527.4 279.3 L527.8 278.3 L528.3 276.6 L529.0 271.7 L530.2 260.4 L530.5 258.9 L530.6 258.7 L530.8 258.9 L531.1 260.4 L532.3 271.7 L532.9 275.7 L533.6 278.6 L534.0 279.4 L534.5 279.9 L535.2 280.3 L536.1 280.3 L536.8 279.9 L538.3 278.9 L539.1 278.8 L539.8 279.1 L541.4 280.5 L542.2 281.0 L543.0 281.4 L544.2 281.7 L547.3 281.9 L552.0 281.8 L554.7 281.6 L556.6 281.2 L558.5 280.3 L562.1 277.9 L563.0 277.6 L564.4 277.5 L565.0 277.3 L565.6 276.8 L566.1 276.1 L566.6 274.2 L567.2 270.8 L567.8 265.8 L568.9 255.1 L569.2 253.0 L569.3 252.5 L569.5 252.4 L569.7 253.2 L570.0 255.3 L571.4 269.4 L572.3 275.5 L572.8 277.8 L573.4 279.1 L574.2 280.0 L575.2 280.7 L576.2 281.1 L577.4 281.4 L580.8 281.8 L586.4 282.0 L593.5 282.1 L595.4 282.0 L596.8 281.7 L597.8 281.3 L599.6 280.4 L600.3 280.2 L601.0 280.4 L603.0 281.4 L604.3 281.8 L606.2 282.0 L609.2 282.0 L610.8 281.8 L612.0 281.3 L613.0 280.5 L614.8 278.6 L615.2 278.3 L615.5 278.2 L615.8 278.3 L616.2 278.6 L617.9 280.4 L618.6 281.1 L619.5 281.6 L620.4 281.8 L621.7 282.0 L623.9 282.1 L633.5 282.2" stroke-width="3.2"/>
<path d="M43.2 281.7 L52.3 281.5 L56.6 281.3 L58.0 281.1 L59.0 280.8 L59.7 280.5 L60.3 279.9 L60.8 279.1 L61.1 278.1 L61.5 275.1 L61.9 269.0 L62.5 256.3M63.4 256.3 L64.3 273.5 L64.7 277.4 L65.2 279.1 L65.5 279.7 L65.9 280.2 L66.5 280.6 L67.4 281.0 L69.6 281.3 L73.3 281.5 L81.3 281.5 L83.3 281.4 L84.5 281.2 L85.3 280.9 L85.8 280.4 L87.3 278.2 L87.6 277.9 L87.9 277.8 L88.4 278.0 L89.5 279.9 L90.1 280.6 L90.9 281.1 L91.9 281.3 L94.3 281.4 L97.2 281.4 L98.2 281.3 L100.3 280.7 L102.5 281.3 L104.3 281.4 L111.7 281.4 L115.2 281.0 L116.0 280.8 L116.5 280.5 L117.0 280.0 L117.4 279.2 L118.0 277.1 L118.9 272.5 L119.2 271.5 L119.3 271.4 L119.5 271.5 L119.8 272.5 L120.7 277.1 L121.3 279.2 L121.7 280.0 L122.2 280.5 L122.7 280.8 L123.5 281.0 L125.5 281.3 L129.1 281.4 L148.6 281.3 L157.0 281.1 L159.6 280.8 L161.7 280.4 L163.5 279.8 L164.8 278.9 L165.7 277.8 L166.4 275.9 L166.9 273.6 L167.2 270.7 L167.8 258.3M170.3 256.2 L170.6 263.2 L170.9 267.3 L171.3 270.0 L171.4 270.3 L171.6 270.4 L171.7 270.3 L172.0 269.8 L172.3 268.9 L172.9 265.1 L173.4 259.9 L173.7 254.3M177.6 255.3 L178.2 265.2 L178.7 269.3 L179.3 272.7 L179.9 274.9 L180.6 276.7 L181.6 278.2 L182.8 279.2 L184.3 280.0 L186.1 280.5 L188.4 280.9 L191.7 281.2 L199.6 281.5 L207.6 281.5 L209.2 281.2 L211.0 280.2 L211.4 280.1 L211.9 280.2 L213.2 281.0 L213.9 281.3 L215.0 281.4 L216.7 281.5 L220.0 281.2 L221.9 280.7 L222.5 280.4 L223.1 279.9 L223.5 279.2 L223.8 278.4 L224.3 276.0 L224.7 271.0 L225.5 254.4M226.6 254.4 L227.4 271.0 L227.7 274.7 L228.1 277.8 L228.7 279.5 L229.4 280.3 L230.8 281.0 L232.8 281.3 L234.5 281.4 L235.5 281.2 L236.2 280.8 L237.6 279.8 L238.0 279.7 L238.6 279.9 L239.9 281.0 L240.8 281.4 L242.6 281.6 L245.1 281.5 L246.6 281.1 L248.6 279.5 L249.2 279.3 L249.8 279.5 L251.3 280.7 L252.2 281.2 L253.2 281.5 L254.7 281.7 L261.2 281.7 L266.9 281.5 L270.2 281.1 L271.4 280.8 L272.2 280.4 L273.3 279.6 L274.2 278.4 L274.9 276.6 L275.3 274.7 L275.6 272.5 L275.9 269.0 L276.4 258.5M279.5 258.5 L279.8 266.3 L280.1 271.0 L280.4 273.8 L280.8 276.1 L281.5 278.2 L282.4 279.4 L283.6 280.3 L284.3 280.6 L285.2 280.8 L286.4 280.9 L288.9 280.6 L291.7 281.4 L292.9 281.6 L297.9 281.9 L321.8 282.1 L327.3 282.0 L330.2 281.8 L331.7 281.5 L332.3 281.1 L332.7 280.6 L333.5 279.3 L334.8 275.6 L335.1 275.0 L335.4 274.8 L335.7 275.0 L336.0 275.6 L337.3 279.3 L338.1 280.6 L338.9 281.4 L340.3 281.9 L344.0 282.1 L352.2 282.2 L374.8 282.3 L382.8 282.2 L385.3 281.8 L386.0 281.5 L386.5 281.0 L387.0 279.7 L388.1 275.4 L388.4 274.5 L388.5 274.3 L388.8 274.8 L389.7 278.5 L390.3 280.2 L390.9 280.8 L391.3 280.9 L391.6 280.7 L392.1 280.1 L392.4 279.4 L393.4 275.3 L393.7 274.5 L393.8 274.3 L394.1 274.8 L395.0 278.7 L395.6 280.5 L395.9 281.0 L396.3 281.5 L397.4 281.9 L398.7 282.1 L400.8 282.3 L409.2 282.4 L421.7 282.3 L427.2 281.9 L428.8 281.6 L430.0 281.1 L430.7 280.2 L431.2 279.2 L431.6 277.4 L431.9 275.6 L433.1 263.2 L433.4 261.1 L433.5 260.8 L433.7 261.1 L434.0 263.2 L434.7 271.6 L435.3 276.5 L435.6 278.1 L436.0 279.6 L436.5 280.4 L436.9 280.8 L438.0 281.3 L439.1 281.5 L440.2 281.3 L442.1 280.7 L442.8 280.6 L443.4 280.8 L445.8 281.7 L447.7 282.0 L449.5 281.7 L451.8 280.9 L452.7 280.7 L453.5 280.9 L455.4 281.7 L456.6 282.0 L458.3 282.1 L461.6 282.1 L465.6 282.0 L468.1 281.6 L469.0 281.3 L469.7 280.9 L470.1 280.4 L470.6 279.7 L470.9 278.8 L471.2 277.4 L471.6 273.4 L472.1 266.1 L472.5 255.9M473.7 255.9 L474.4 271.4 L475.0 277.4 L475.4 279.3 L475.9 280.2 L476.6 281.0 L477.7 281.5 L479.0 281.8 L480.9 282.0 L487.5 282.1 L494.6 282.0 L496.6 281.7 L497.7 281.4 L498.3 281.1 L498.8 280.7 L499.5 279.5 L500.2 277.5 L501.6 272.7 L501.9 272.0 L502.2 271.8 L502.5 272.0 L502.7 272.7 L504.1 277.5 L504.8 279.5 L505.6 280.6 L506.0 281.0 L506.6 281.3 L507.8 281.5 L509.1 281.4 L510.0 281.0 L511.5 280.1 L512.0 280.0 L512.6 280.1 L514.1 281.1 L514.8 281.4 L515.9 281.6 L516.9 281.6 L517.7 281.4 L518.2 281.0 L520.2 279.3 L520.8 279.1 L521.3 279.3 L522.8 280.5 L523.7 280.9 L524.7 281.1 L525.9 280.8 L526.8 280.2 L527.4 279.3 L527.8 278.3 L528.3 276.6 L529.0 271.7 L530.2 260.4 L530.5 258.9 L530.6 258.7 L530.8 258.9 L531.1 260.4 L532.1 270.4 L532.7 274.9 L533.4 278.2 L533.7 278.9 L534.2 279.6 L534.9 280.2 L535.4 280.3 L536.0 280.3 L536.8 279.9 L538.3 278.9 L539.1 278.8 L539.8 279.1 L541.9 280.9 L543.2 281.5 L545.3 281.8 L549.4 281.9 L553.8 281.7 L556.5 281.2 L558.5 280.3 L562.1 277.9 L563.0 277.6 L564.7 277.4 L565.2 277.3 L565.6 276.8 L566.1 276.1 L566.4 275.3 L567.1 271.8 L567.7 267.2 L568.9 255.1M570.0 255.3 L571.4 269.4 L572.3 275.5 L572.8 277.8 L573.4 279.1 L574.3 280.2 L575.5 280.8 L577.9 281.5 L581.3 281.8 L587.0 282.0 L593.8 282.1 L595.6 281.9 L596.8 281.7 L597.8 281.3 L599.6 280.4 L600.3 280.2 L601.0 280.4 L603.0 281.4 L604.3 281.8 L606.2 282.0 L609.3 282.0 L610.9 281.7 L612.1 281.2 L613.1 280.4 L614.8 278.6 L615.2 278.3 L615.5 278.2 L615.8 278.3 L616.2 278.6 L617.9 280.4 L618.6 281.1 L619.5 281.6 L620.4 281.8 L621.7 282.0 L623.9 282.1 L633.5 282.2" stroke-width="3.5"/>
<path d="M43.2 281.7 L51.5 281.6 L55.7 281.4 L58.3 281.1 L59.1 280.8 L59.7 280.5 L60.2 280.1 L60.6 279.4 L60.9 278.7 L61.2 277.4 L61.6 273.5 L61.9 269.0M64.0 269.0 L64.6 276.4 L64.9 278.1 L65.2 279.1 L65.6 279.9 L66.2 280.4 L67.1 280.9 L68.3 281.2 L70.9 281.4 L75.4 281.5 L81.4 281.5 L84.2 281.3 L85.1 281.0 L85.7 280.6 L86.3 279.9 L87.5 278.0 L87.9 277.8 L88.4 278.0 L89.5 279.9 L90.1 280.6 L90.9 281.1 L91.9 281.3 L94.3 281.4 L97.2 281.4 L98.2 281.3 L100.3 280.7 L102.5 281.3 L104.1 281.4 L111.4 281.4 L115.1 281.1 L116.4 280.6 L116.8 280.2 L117.3 279.5 L118.0 277.1 L119.1 271.9 L119.3 271.4 L119.5 271.5 L119.8 272.5 L120.5 276.4 L121.1 278.8 L121.7 280.0 L122.2 280.5 L122.6 280.8 L124.1 281.1 L126.7 281.3 L141.3 281.4 L151.1 281.3 L157.1 281.0 L161.0 280.6 L162.3 280.3 L163.5 279.8 L164.5 279.2 L165.2 278.4 L165.8 277.5 L166.3 276.4 L166.9 273.6 L167.3 268.6M171.0 268.6 L171.3 270.0 L171.6 270.4 L171.7 270.3 L172.0 269.8 L172.5 268.2M178.5 268.1 L179.3 272.7 L180.1 275.7 L180.7 277.0 L181.5 278.0 L182.2 278.8 L183.2 279.5 L184.4 280.0 L185.8 280.4 L189.3 281.0 L194.8 281.3 L203.0 281.5 L206.9 281.5 L208.5 281.4 L209.5 281.1 L210.8 280.3 L211.4 280.1 L211.9 280.2 L213.6 281.2 L215.3 281.5 L217.6 281.4 L219.8 281.3 L221.3 281.0 L222.4 280.5 L222.9 280.0 L223.4 279.5 L224.0 277.8 L224.4 274.7 L224.9 268.5M227.2 268.5 L227.5 273.1 L228.0 277.0 L228.3 278.4 L228.6 279.2 L229.0 279.9 L229.4 280.3 L230.3 280.8 L231.4 281.1 L233.0 281.3 L234.6 281.4 L235.3 281.2 L235.9 281.0 L237.6 279.8 L238.0 279.7 L238.4 279.8 L239.8 280.9 L240.5 281.3 L241.5 281.5 L243.0 281.6 L244.9 281.5 L246.1 281.3 L247.1 280.7 L248.6 279.5 L249.2 279.3 L249.8 279.5 L251.3 280.7 L252.0 281.2 L252.9 281.5 L254.2 281.6 L259.8 281.7 L265.9 281.6 L269.3 281.2 L271.5 280.7 L272.5 280.2 L273.4 279.5 L274.0 278.7 L274.6 277.5 L275.0 276.1 L275.3 274.7 L275.6 272.5 L275.9 269.0M279.9 269.0 L280.4 273.8 L280.6 275.5 L281.1 277.1 L281.7 278.4 L282.3 279.3 L283.0 280.0 L283.9 280.5 L284.8 280.8 L285.8 280.9 L288.3 280.6 L289.1 280.6 L292.0 281.5 L294.4 281.8 L309.0 282.0 L326.1 282.1 L329.5 281.9 L331.3 281.7 L332.3 281.1 L333.0 280.2 L333.6 278.9 L334.8 275.6 L335.1 275.0 L335.4 274.8 L335.7 275.0 L336.0 275.6 L337.3 279.3 L338.1 280.6 L338.9 281.4 L340.3 281.9 L344.5 282.1 L355.2 282.3 L376.7 282.3 L383.7 282.1 L384.8 282.0 L385.6 281.7 L386.0 281.5 L386.5 281.0 L387.0 279.7 L388.1 275.4 L388.4 274.5 L388.5 274.3 L388.7 274.5 L389.0 275.3 L390.0 279.5 L390.4 280.4 L390.7 280.7 L391.0 280.9 L391.3 280.9 L391.6 280.7 L392.2 279.8 L392.7 278.5 L393.5 274.8 L393.8 274.3 L394.1 274.8 L395.0 278.7 L395.6 280.5 L395.9 281.0 L396.3 281.5 L397.4 281.9 L400.3 282.2 L407.1 282.4 L420.4 282.3 L426.5 282.0 L428.2 281.8 L429.4 281.4 L430.3 280.8 L430.9 280.0 L431.3 278.7 L431.8 276.6 L432.5 270.0M434.6 269.9 L435.2 275.5 L435.7 278.7 L436.0 279.6 L436.5 280.4 L436.9 280.8 L437.5 281.2 L438.4 281.4 L439.4 281.4 L440.3 281.3 L442.1 280.7 L442.8 280.6 L445.9 281.8 L447.0 281.9 L448.0 282.0 L449.6 281.7 L451.8 280.9 L452.6 280.7 L453.3 280.9 L455.5 281.8 L456.7 282.0 L458.9 282.1 L462.8 282.1 L465.9 282.0 L467.9 281.6 L469.4 281.1 L470.3 280.2 L470.7 279.3 L471.2 277.4 L471.6 273.4 L471.9 269.0M474.3 269.0 L474.6 273.4 L475.0 277.4 L475.4 279.3 L475.7 280.0 L476.2 280.6 L476.8 281.0 L477.4 281.4 L479.3 281.8 L482.2 282.0 L487.1 282.1 L492.1 282.1 L495.4 281.9 L497.3 281.6 L498.3 281.1 L499.1 280.3 L499.6 279.2 L500.2 277.5 L501.6 272.7 L501.9 272.0 L502.2 271.8 L502.5 272.0 L502.7 272.7 L504.1 277.5 L504.8 279.5 L505.6 280.6 L506.0 281.0 L506.6 281.3 L507.8 281.5 L509.1 281.4 L510.0 281.0 L511.5 280.1 L512.0 280.0 L512.6 280.1 L514.1 281.1 L514.8 281.4 L515.9 281.6 L516.9 281.6 L517.7 281.4 L518.2 281.0 L520.2 279.3 L520.8 279.1 L521.3 279.3 L522.8 280.5 L523.6 280.9 L524.4 281.1 L525.5 280.9 L526.4 280.5 L527.0 280.0 L527.4 279.3 L527.8 278.3 L528.6 274.9 L529.3 269.0M532.0 269.0 L532.6 273.9 L533.1 277.1 L533.7 278.9 L534.2 279.6 L534.6 280.0 L535.4 280.3 L536.1 280.3 L536.8 279.9 L538.3 278.9 L539.1 278.8 L539.8 279.1 L541.9 280.9 L543.2 281.5 L545.4 281.8 L549.8 281.9 L554.0 281.7 L556.5 281.2 L558.5 280.3 L562.1 277.9 L563.0 277.6 L564.7 277.4 L565.3 277.2 L565.9 276.4 L566.5 274.8 L567.1 271.8 L567.5 268.5M571.4 269.4 L572.3 275.5 L572.7 277.3 L573.3 278.9 L573.9 279.7 L574.8 280.5 L575.8 281.0 L577.3 281.4 L579.9 281.7 L583.6 282.0 L589.8 282.1 L594.7 282.0 L596.0 281.9 L597.0 281.6 L599.6 280.4 L600.3 280.2 L601.0 280.4 L603.2 281.5 L604.4 281.8 L606.5 282.0 L609.6 281.9 L611.1 281.7 L612.1 281.2 L613.1 280.4 L614.8 278.6 L615.2 278.3 L615.5 278.2 L615.8 278.3 L616.2 278.6 L617.9 280.4 L618.6 281.1 L619.5 281.6 L620.4 281.8 L621.7 282.0 L623.9 282.1 L633.5 282.2" stroke-width="3.8"/>
</g>
<path d="M42.0 423.0 L42.2 423.5 L42.5 423.4 L42.8 422.5 L43.0 422.6 L43.2 423.4 L43.5 422.1 L43.8 423.4 L44.0 423.3 L44.2 422.9 L44.5 422.6 L44.8 422.6 L45.0 422.6 L45.2 423.1 L45.5 423.1 L45.8 423.2 L46.0 424.0 L46.2 423.5 L46.5 423.0 L46.8 423.6 L47.0 422.4 L47.2 422.2 L47.5 422.8 L47.8 421.8 L48.0 421.7 L48.2 422.5 L48.5 422.6 L48.8 423.3 L49.0 423.0 L49.2 422.9 L49.5 422.9 L49.8 422.6 L50.0 422.0 L50.2 422.3 L50.5 423.1 L50.8 422.3 L51.0 422.4 L51.2 421.8 L51.5 423.2 L51.8 422.2 L52.0 422.7 L52.2 423.6 L52.5 423.0 L52.8 423.4 L53.0 423.1 L53.2 423.3 L53.5 422.3 L53.8 422.9 L54.0 422.8 L54.2 423.4 L54.5 422.6 L54.8 423.1 L55.0 422.2 L55.2 422.6 L55.5 422.5 L55.8 422.3 L56.0 423.3 L56.2 422.7 L56.5 423.6 L56.8 423.0 L57.0 423.0 L57.2 423.1 L57.5 423.1 L57.8 422.1 L58.0 422.7 L58.2 422.2 L58.5 422.5 L58.8 421.9 L59.0 423.1 L59.2 421.8 L59.5 422.4 L59.8 421.8 L60.0 422.5 L60.2 422.2 L60.5 421.2 L60.8 422.3 L61.0 422.4 L61.2 426.2 L61.5 427.2 L61.8 424.8 L62.0 423.1 L62.2 422.4 L62.5 420.1 L62.8 418.4 L63.0 421.5 L63.2 423.0 L63.5 424.0 L63.8 423.4 L64.0 423.2 L64.2 422.8 L64.5 422.2 L64.8 423.6 L65.0 422.9 L65.2 422.9 L65.5 422.5 L65.8 423.2 L66.0 422.1 L66.2 422.5 L66.5 421.9 L66.8 422.0 L67.0 423.4 L67.2 423.0 L67.5 422.6 L67.8 422.7 L68.0 423.2 L68.2 422.4 L68.5 423.0 L68.8 423.2 L69.0 422.7 L69.2 423.0 L69.5 423.5 L69.8 423.9 L70.0 422.8 L70.2 424.0 L70.5 422.4 L70.8 423.6 L71.0 423.6 L71.2 422.5 L71.5 422.8 L71.8 423.2 L72.0 421.9 L72.2 422.7 L72.5 423.0 L72.8 422.5 L73.0 422.7 L73.2 422.0 L73.5 422.0 L73.8 422.4 L74.0 422.3 L74.2 422.8 L74.5 423.7 L74.8 423.1 L75.0 422.9 L75.2 422.8 L75.5 423.9 L75.8 423.0 L76.0 423.7 L76.2 422.8 L76.5 422.8 L76.8 423.4 L77.0 423.0 L77.2 422.6 L77.5 422.4 L77.8 423.1 L78.0 422.5 L78.2 423.2 L78.5 421.8 L78.8 422.4 L79.0 422.6 L79.2 423.3 L79.5 422.2 L79.8 423.1 L80.0 422.9 L80.2 423.1 L80.5 423.0 L80.8 423.6 L81.0 422.6 L81.2 422.8 L81.5 422.4 L81.8 422.2 L82.0 422.5 L82.2 423.7 L82.5 423.6 L82.8 422.5 L83.0 423.2 L83.2 423.0 L83.5 423.3 L83.8 423.4 L84.0 422.6 L84.2 423.8 L84.5 423.0 L84.8 423.2 L85.0 423.2 L85.2 422.4 L85.5 422.3 L85.8 423.0 L86.0 423.6 L86.2 423.7 L86.5 423.6 L86.8 422.9 L87.0 424.1 L87.2 423.9 L87.5 424.0 L87.8 423.4 L88.0 424.1 L88.2 422.5 L88.5 422.5 L88.8 422.4 L89.0 422.6 L89.2 422.8 L89.5 422.6 L89.8 423.3 L90.0 422.4 L90.2 423.4 L90.5 422.7 L90.8 423.3 L91.0 422.3 L91.2 422.7 L91.5 423.7 L91.8 422.8 L92.0 423.4 L92.2 423.1 L92.5 422.9 L92.8 422.3 L93.0 422.8 L93.2 421.8 L93.5 423.0 L93.8 423.4 L94.0 423.1 L94.2 421.9 L94.5 422.4 L94.8 422.3 L95.0 422.1 L95.2 423.0 L95.5 423.3 L95.8 422.5 L96.0 423.4 L96.2 423.3 L96.5 422.3 L96.8 423.2 L97.0 423.3 L97.2 422.2 L97.5 422.9 L97.8 423.0 L98.0 422.9 L98.2 422.1 L98.5 423.0 L98.8 423.0 L99.0 423.4 L99.2 423.4 L99.5 422.6 L99.8 423.2 L100.0 423.4 L100.2 423.4 L100.5 422.2 L100.8 422.1 L101.0 423.1 L101.2 422.4 L101.5 423.1 L101.8 423.7 L102.0 422.9 L102.2 422.7 L102.5 423.1 L102.8 423.5 L103.0 422.5 L103.2 422.9 L103.5 422.5 L103.8 423.3 L104.0 423.5 L104.2 422.6 L104.5 422.6 L104.8 422.8 L105.0 422.3 L105.2 422.5 L105.5 422.6 L105.8 422.9 L106.0 422.3 L106.2 423.5 L106.5 423.2 L106.8 422.7 L107.0 422.4 L107.2 423.3 L107.5 422.2 L107.8 422.2 L108.0 422.1 L108.2 422.1 L108.5 423.4 L108.8 422.2 L109.0 422.2 L109.2 423.2 L109.5 422.8 L109.8 422.1 L110.0 422.6 L110.2 423.3 L110.5 422.5 L110.8 423.1 L111.0 422.2 L111.2 423.1 L111.5 423.3 L111.8 423.2 L112.0 423.0 L112.2 422.6 L112.5 422.2 L112.8 422.9 L113.0 423.3 L113.2 422.3 L113.5 422.6 L113.8 423.0 L114.0 423.3 L114.2 423.4 L114.5 422.1 L114.8 422.2 L115.0 423.2 L115.2 422.9 L115.5 423.0 L115.8 423.4 L116.0 423.3 L116.2 423.2 L116.5 423.2 L116.8 422.7 L117.0 423.0 L117.2 422.2 L117.5 423.6 L117.8 424.3 L118.0 425.0 L118.2 425.2 L118.5 425.7 L118.8 426.3 L119.0 426.4 L119.2 427.4 L119.5 426.3 L119.8 425.2 L120.0 424.6 L120.2 424.0 L120.5 422.8 L120.8 423.2 L121.0 423.4 L121.2 422.5 L121.5 421.9 L121.8 422.9 L122.0 423.3 L122.2 421.9 L122.5 422.7 L122.8 422.8 L123.0 422.8 L123.2 421.7 L123.5 421.9 L123.8 423.3 L124.0 421.9 L124.2 422.0 L124.5 422.7 L124.8 422.6 L125.0 423.1 L125.2 422.2 L125.5 423.5 L125.8 422.4 L126.0 423.3 L126.2 422.2 L126.5 422.9 L126.8 422.2 L127.0 422.7 L127.2 422.7 L127.5 423.1 L127.8 422.7 L128.0 422.1 L128.2 423.5 L128.5 423.3 L128.8 423.5 L129.0 422.6 L129.2 422.9 L129.5 422.6 L129.8 422.5 L130.0 422.2 L130.2 423.0 L130.5 422.2 L130.8 422.1 L131.0 423.1 L131.2 422.4 L131.5 421.9 L131.8 422.6 L132.0 422.1 L132.2 422.5 L132.5 422.3 L132.8 422.7 L133.0 422.9 L133.2 422.9 L133.5 422.6 L133.8 423.5 L134.0 423.7 L134.2 422.6 L134.5 422.3 L134.8 422.3 L135.0 423.6 L135.2 423.4 L135.5 422.4 L135.8 423.5 L136.0 422.1 L136.2 422.7 L136.5 422.7 L136.8 423.3 L137.0 422.0 L137.2 422.5 L137.5 422.9 L137.8 422.0 L138.0 422.4 L138.2 422.7 L138.5 423.5 L138.8 423.2 L139.0 423.4 L139.2 423.3 L139.5 423.1 L139.8 423.4 L140.0 423.0 L140.2 423.1 L140.5 422.3 L140.8 422.1 L141.0 423.1 L141.2 422.2 L141.5 423.5 L141.8 422.9 L142.0 422.5 L142.2 423.6 L142.5 422.3 L142.8 422.8 L143.0 422.0 L143.2 423.3 L143.5 422.7 L143.8 423.2 L144.0 422.1 L144.2 422.9 L144.5 422.9 L144.8 422.8 L145.0 423.4 L145.2 422.7 L145.5 422.7 L145.8 423.2 L146.0 423.4 L146.2 422.6 L146.5 422.9 L146.8 422.2 L147.0 422.7 L147.2 423.0 L147.5 421.9 L147.8 423.0 L148.0 421.9 L148.2 423.4 L148.5 422.6 L148.8 422.5 L149.0 422.9 L149.2 422.6 L149.5 422.8 L149.8 421.7 L150.0 422.4 L150.2 422.5 L150.5 423.2 L150.8 421.8 L151.0 422.5 L151.2 422.8 L151.5 422.6 L151.8 422.0 L152.0 423.0 L152.2 422.4 L152.5 422.4 L152.8 423.6 L153.0 422.6 L153.2 422.9 L153.5 423.6 L153.8 423.5 L154.0 423.2 L154.2 423.6 L154.5 423.0 L154.8 423.2 L155.0 423.4 L155.2 423.3 L155.5 423.1 L155.8 422.6 L156.0 422.9 L156.2 422.7 L156.5 423.3 L156.8 422.7 L157.0 422.9 L157.2 423.3 L157.5 423.0 L157.8 422.8 L158.0 423.5 L158.2 422.7 L158.5 423.3 L158.8 423.2 L159.0 422.7 L159.2 423.1 L159.5 421.8 L159.8 422.5 L160.0 423.3 L160.2 423.0 L160.5 423.0 L160.8 423.2 L161.0 423.1 L161.2 422.9 L161.5 422.6 L161.8 422.2 L162.0 422.4 L162.2 422.3 L162.5 422.3 L162.8 423.1 L163.0 421.8 L163.2 421.5 L163.5 421.1 L163.8 420.9 L164.0 421.0 L164.2 420.5 L164.5 419.4 L164.8 418.9 L165.0 419.5 L165.2 418.6 L165.5 418.5 L165.8 417.1 L166.0 417.9 L166.2 416.6 L166.5 418.2 L166.8 419.4 L167.0 421.6 L167.2 423.9 L167.5 425.6 L167.8 426.8 L168.0 429.1 L168.2 429.8 L168.5 429.2 L168.8 428.9 L169.0 427.8 L169.2 427.3 L169.5 427.4 L169.8 427.0 L170.0 425.3 L170.2 425.8 L170.5 425.2 L170.8 423.6 L171.0 421.9 L171.2 421.9 L171.5 420.1 L171.8 419.7 L172.0 418.2 L172.2 417.6 L172.5 416.1 L172.8 415.3 L173.0 417.6 L173.2 420.8 L173.5 423.2 L173.8 427.5 L174.0 429.5 L174.2 432.8 L174.5 432.8 L174.8 428.1 L175.0 424.4 L175.2 420.6 L175.5 416.1 L175.8 410.9 L176.0 409.3 L176.2 412.3 L176.5 415.8 L176.8 418.3 L177.0 421.7 L177.2 424.1 L177.5 426.9 L177.8 429.9 L178.0 429.8 L178.2 428.4 L178.5 427.6 L178.8 427.0 L179.0 426.4 L179.2 425.0 L179.5 425.0 L179.8 425.0 L180.0 423.8 L180.2 423.3 L180.5 422.8 L180.8 422.5 L181.0 423.3 L181.2 421.8 L181.5 422.1 L181.8 422.0 L182.0 422.5 L182.2 421.7 L182.5 422.4 L182.8 422.1 L183.0 422.1 L183.2 422.9 L183.5 422.0 L183.8 422.7 L184.0 422.5 L184.2 422.5 L184.5 423.2 L184.8 422.2 L185.0 423.6 L185.2 423.6 L185.5 423.2 L185.8 422.3 L186.0 423.1 L186.2 423.1 L186.5 423.3 L186.8 422.4 L187.0 423.4 L187.2 423.3 L187.5 422.1 L187.8 422.4 L188.0 421.9 L188.2 423.3 L188.5 423.4 L188.8 423.4 L189.0 422.8 L189.2 422.9 L189.5 422.9 L189.8 422.8 L190.0 423.4 L190.2 422.8 L190.5 422.5 L190.8 422.8 L191.0 422.1 L191.2 423.2 L191.5 423.1 L191.8 422.7 L192.0 423.3 L192.2 423.3 L192.5 422.7 L192.8 422.3 L193.0 422.4 L193.2 422.5 L193.5 422.7 L193.8 423.0 L194.0 423.9 L194.2 422.8 L194.5 423.6 L194.8 423.2 L195.0 423.5 L195.2 422.8 L195.5 422.1 L195.8 423.5 L196.0 422.5 L196.2 422.3 L196.5 423.3 L196.8 423.1 L197.0 422.3 L197.2 422.3 L197.5 423.3 L197.8 422.1 L198.0 422.9 L198.2 422.0 L198.5 423.1 L198.8 422.0 L199.0 422.6 L199.2 421.8 L199.5 422.7 L199.8 423.2 L200.0 422.0 L200.2 422.4 L200.5 423.2 L200.8 423.1 L201.0 422.7 L201.2 423.2 L201.5 423.0 L201.8 423.7 L202.0 422.7 L202.2 423.4 L202.5 423.2 L202.8 423.4 L203.0 422.8 L203.2 423.3 L203.5 423.1 L203.8 422.7 L204.0 422.2 L204.2 423.6 L204.5 423.1 L204.8 422.2 L205.0 422.9 L205.2 422.2 L205.5 422.4 L205.8 423.0 L206.0 422.3 L206.2 422.1 L206.5 422.1 L206.8 421.8 L207.0 422.0 L207.2 422.2 L207.5 422.1 L207.8 421.9 L208.0 422.5 L208.2 422.1 L208.5 422.9 L208.8 423.2 L209.0 422.5 L209.2 423.3 L209.5 423.4 L209.8 422.9 L210.0 423.2 L210.2 424.7 L210.5 424.1 L210.8 424.3 L211.0 423.0 L211.2 423.4 L211.5 423.5 L211.8 423.3 L212.0 421.7 L212.2 422.2 L212.5 421.7 L212.8 422.4 L213.0 421.3 L213.2 421.7 L213.5 422.7 L213.8 422.1 L214.0 422.0 L214.2 422.8 L214.5 421.7 L214.8 421.2 L215.0 421.8 L215.2 421.3 L215.5 421.2 L215.8 422.1 L216.0 422.7 L216.2 422.1 L216.5 422.5 L216.8 422.0 L217.0 422.4 L217.2 422.8 L217.5 422.7 L217.8 422.9 L218.0 422.7 L218.2 422.1 L218.5 422.7 L218.8 422.6 L219.0 422.1 L219.2 422.8 L219.5 423.1 L219.8 422.0 L220.0 422.7 L220.2 423.0 L220.5 422.5 L220.8 422.2 L221.0 422.5 L221.2 423.0 L221.5 423.3 L221.8 423.4 L222.0 422.9 L222.2 424.2 L222.5 424.6 L222.8 423.5 L223.0 423.9 L223.2 423.5 L223.5 424.4 L223.8 424.3 L224.0 422.6 L224.2 424.3 L224.5 425.3 L224.8 426.9 L225.0 426.6 L225.2 423.8 L225.5 422.4 L225.8 421.4 L226.0 420.0 L226.2 419.4 L226.5 420.1 L226.8 420.9 L227.0 422.6 L227.2 424.6 L227.5 425.5 L227.8 425.5 L228.0 427.1 L228.2 425.8 L228.5 425.9 L228.8 424.0 L229.0 424.7 L229.2 422.9 L229.5 422.7 L229.8 423.0 L230.0 422.6 L230.2 422.1 L230.5 422.2 L230.8 422.4 L231.0 422.2 L231.2 422.5 L231.5 422.5 L231.8 423.2 L232.0 423.1 L232.2 423.4 L232.5 422.7 L232.8 422.3 L233.0 422.6 L233.2 423.4 L233.5 422.3 L233.8 422.6 L234.0 423.1 L234.2 422.7 L234.5 423.4 L234.8 423.5 L235.0 422.5 L235.2 423.1 L235.5 422.4 L235.8 422.1 L236.0 422.6 L236.2 422.9 L236.5 423.6 L236.8 422.4 L237.0 423.4 L237.2 423.0 L237.5 422.3 L237.8 423.7 L238.0 423.2 L238.2 422.3 L238.5 423.5 L238.8 422.2 L239.0 422.1 L239.2 422.5 L239.5 423.5 L239.8 422.1 L240.0 423.6 L240.2 423.0 L240.5 422.1 L240.8 422.9 L241.0 422.7 L241.2 422.9 L241.5 423.2 L241.8 423.1 L242.0 423.5 L242.2 422.1 L242.5 423.2 L242.8 422.7 L243.0 423.4 L243.2 423.6 L243.5 423.7 L243.8 422.5 L244.0 422.9 L244.2 423.7 L244.5 423.7 L244.8 422.6 L245.0 423.5 L245.2 422.5 L245.5 422.5 L245.8 423.2 L246.0 422.7 L246.2 422.7 L246.5 422.7 L246.8 422.8 L247.0 422.4 L247.2 422.4 L247.5 423.6 L247.8 423.3 L248.0 423.5 L248.2 423.7 L248.5 422.8 L248.8 422.9 L249.0 423.1 L249.2 423.2 L249.5 424.0 L249.8 423.5 L250.0 423.6 L250.2 424.4 L250.5 423.7 L250.8 423.6 L251.0 424.5 L251.2 424.3 L251.5 423.5 L251.8 424.0 L252.0 422.8 L252.2 423.4 L252.5 423.6 L252.8 423.0 L253.0 423.0 L253.2 423.4 L253.5 423.2 L253.8 422.4 L254.0 423.3 L254.2 422.2 L254.5 423.7 L254.8 422.5 L255.0 422.5 L255.2 422.4 L255.5 423.6 L255.8 422.5 L256.0 422.9 L256.2 423.6 L256.5 423.6 L256.8 422.2 L257.0 423.0 L257.2 423.2 L257.5 423.5 L257.8 422.9 L258.0 422.8 L258.2 422.2 L258.5 422.4 L258.8 423.2 L259.0 422.4 L259.2 422.5 L259.5 422.6 L259.8 422.2 L260.0 422.2 L260.2 423.6 L260.5 422.8 L260.8 422.5 L261.0 423.3 L261.2 422.3 L261.5 422.8 L261.8 423.9 L262.0 423.8 L262.2 423.4 L262.5 422.5 L262.8 422.7 L263.0 422.4 L263.2 422.7 L263.5 422.4 L263.8 422.6 L264.0 423.4 L264.2 422.6 L264.5 422.6 L264.8 423.8 L265.0 422.8 L265.2 422.7 L265.5 422.2 L265.8 423.3 L266.0 423.1 L266.2 422.7 L266.5 422.7 L266.8 422.0 L267.0 422.3 L267.2 422.8 L267.5 423.5 L267.8 423.2 L268.0 422.8 L268.2 422.7 L268.5 421.9 L268.8 423.3 L269.0 422.1 L269.2 422.2 L269.5 423.0 L269.8 423.2 L270.0 423.2 L270.2 422.7 L270.5 422.1 L270.8 421.9 L271.0 423.1 L271.2 423.3 L271.5 422.2 L271.8 423.1 L272.0 422.3 L272.2 422.1 L272.5 422.5 L272.8 421.8 L273.0 422.4 L273.2 421.7 L273.5 422.0 L273.8 421.3 L274.0 421.5 L274.2 421.1 L274.5 419.6 L274.8 419.0 L275.0 419.5 L275.2 418.9 L275.5 421.4 L275.8 424.3 L276.0 428.9 L276.2 430.0 L276.5 425.3 L276.8 422.1 L277.0 418.2 L277.2 414.4 L277.5 417.6 L277.8 421.6 L278.0 424.1 L278.2 428.1 L278.5 428.2 L278.8 427.7 L279.0 426.2 L279.2 426.9 L279.5 427.3 L279.8 427.1 L280.0 427.8 L280.2 426.1 L280.5 426.7 L280.8 425.3 L281.0 425.1 L281.2 425.4 L281.5 424.1 L281.8 422.8 L282.0 422.9 L282.2 423.0 L282.5 422.0 L282.8 422.3 L283.0 422.0 L283.2 422.8 L283.5 422.7 L283.8 423.0 L284.0 422.6 L284.2 423.1 L284.5 422.2 L284.8 423.3 L285.0 423.4 L285.2 422.7 L285.5 422.6 L285.8 423.1 L286.0 422.1 L286.2 423.1 L286.5 422.3 L286.8 423.0 L287.0 422.5 L287.2 422.8 L287.5 423.3 L287.8 422.0 L288.0 423.3 L288.2 422.7 L288.5 422.5 L288.8 422.5 L289.0 422.1 L289.2 422.4 L289.5 423.0 L289.8 422.2 L290.0 423.0 L290.2 423.5 L290.5 423.6 L290.8 423.4 L291.0 423.3 L291.2 422.3 L291.5 423.6 L291.8 422.4 L292.0 423.4 L292.2 423.4 L292.5 422.9 L292.8 422.7 L293.0 422.2 L293.2 422.6 L293.5 422.2 L293.8 421.9 L294.0 422.0 L294.2 423.1 L294.5 423.6 L294.8 422.5 L295.0 422.3 L295.2 423.0 L295.5 422.9 L295.8 423.1 L296.0 423.9 L296.2 423.8 L296.5 423.8 L296.8 423.6 L297.0 424.3 L297.2 423.6 L297.5 423.7 L297.8 423.9 L298.0 424.3 L298.2 423.2 L298.5 423.9 L298.8 423.1 L299.0 423.9 L299.2 423.0 L299.5 423.1 L299.8 423.5 L300.0 423.2 L300.2 422.3 L300.5 422.4 L300.8 423.7 L301.0 422.2 L301.2 422.6 L301.5 423.7 L301.8 422.1 L302.0 422.3 L302.2 422.3 L302.5 422.1 L302.8 422.9 L303.0 423.1 L303.2 422.7 L303.5 422.3 L303.8 423.5 L304.0 423.6 L304.2 423.2 L304.5 422.4 L304.8 423.0 L305.0 423.1 L305.2 422.8 L305.5 423.4 L305.8 422.6 L306.0 422.8 L306.2 422.2 L306.5 423.0 L306.8 423.3 L307.0 423.3 L307.2 422.5 L307.5 423.7 L307.8 423.3 L308.0 422.8 L308.2 422.8 L308.5 423.2 L308.8 422.2 L309.0 422.9 L309.2 423.1 L309.5 422.7 L309.8 423.2 L310.0 422.4 L310.2 422.4 L310.5 422.2 L310.8 423.2 L311.0 422.3 L311.2 422.7 L311.5 422.3 L311.8 423.3 L312.0 423.4 L312.2 421.9 L312.5 423.5 L312.8 422.9 L313.0 422.0 L313.2 422.8 L313.5 422.3 L313.8 423.0 L314.0 422.5 L314.2 422.7 L314.5 422.6 L314.8 423.1 L315.0 423.4 L315.2 423.5 L315.5 422.4 L315.8 422.8 L316.0 422.0 L316.2 422.5 L316.5 423.5 L316.8 422.1 L317.0 423.3 L317.2 422.9 L317.5 422.4 L317.8 423.3 L318.0 422.3 L318.2 423.4 L318.5 422.1 L318.8 422.2 L319.0 423.3 L319.2 422.7 L319.5 422.3 L319.8 422.7 L320.0 422.5 L320.2 423.0 L320.5 423.2 L320.8 423.3 L321.0 422.1 L321.2 423.2 L321.5 423.6 L321.8 422.7 L322.0 423.3 L322.2 422.2 L322.5 423.4 L322.8 422.9 L323.0 423.3 L323.2 423.1 L323.5 423.3 L323.8 422.0 L324.0 422.9 L324.2 422.2 L324.5 422.3 L324.8 422.4 L325.0 422.8 L325.2 423.0 L325.5 423.5 L325.8 422.0 L326.0 422.4 L326.2 422.7 L326.5 423.5 L326.8 423.1 L327.0 423.2 L327.2 423.6 L327.5 423.4 L327.8 422.8 L328.0 422.5 L328.2 423.1 L328.5 423.7 L328.8 423.1 L329.0 422.0 L329.2 422.6 L329.5 422.5 L329.8 422.9 L330.0 422.8 L330.2 423.4 L330.5 422.4 L330.8 422.6 L331.0 423.1 L331.2 423.5 L331.5 423.1 L331.8 422.5 L332.0 423.1 L332.2 422.5 L332.5 423.5 L332.8 422.5 L333.0 422.4 L333.2 423.7 L333.5 422.9 L333.8 424.1 L334.0 423.8 L334.2 423.9 L334.5 423.4 L334.8 424.5 L335.0 423.5 L335.2 425.0 L335.5 425.0 L335.8 424.0 L336.0 423.7 L336.2 424.8 L336.5 424.0 L336.8 423.2 L337.0 423.7 L337.2 423.1 L337.5 423.1 L337.8 423.4 L338.0 423.6 L338.2 423.3 L338.5 422.2 L338.8 422.6 L339.0 422.6 L339.2 423.3 L339.5 422.0 L339.8 422.8 L340.0 423.4 L340.2 422.6 L340.5 422.4 L340.8 422.9 L341.0 422.5 L341.2 423.6 L341.5 422.2 L341.8 422.3 L342.0 422.1 L342.2 423.2 L342.5 422.4 L342.8 423.4 L343.0 423.3 L343.2 423.4 L343.5 422.4 L343.8 422.0 L344.0 422.5 L344.2 423.3 L344.5 423.1 L344.8 422.0 L345.0 423.1 L345.2 423.4 L345.5 423.5 L345.8 423.0 L346.0 423.3 L346.2 423.2 L346.5 422.4 L346.8 422.0 L347.0 423.0 L347.2 422.0 L347.5 422.3 L347.8 423.3 L348.0 422.7 L348.2 422.8 L348.5 423.4 L348.8 422.3 L349.0 423.5 L349.2 423.3 L349.5 422.4 L349.8 422.3 L350.0 422.0 L350.2 423.3 L350.5 422.3 L350.8 422.0 L351.0 423.4 L351.2 422.9 L351.5 423.1 L351.8 423.3 L352.0 422.1 L352.2 422.2 L352.5 422.8 L352.8 422.1 L353.0 422.9 L353.2 423.3 L353.5 423.3 L353.8 423.2 L354.0 422.3 L354.2 422.5 L354.5 423.5 L354.8 422.2 L355.0 422.8 L355.2 422.1 L355.5 423.4 L355.8 422.1 L356.0 422.6 L356.2 422.8 L356.5 423.0 L356.8 423.4 L357.0 423.2 L357.2 422.5 L357.5 422.3 L357.8 423.3 L358.0 423.6 L358.2 422.2 L358.5 423.5 L358.8 422.5 L359.0 422.9 L359.2 423.0 L359.5 423.2 L359.8 423.8 L360.0 423.3 L360.2 422.6 L360.5 423.1 L360.8 422.7 L361.0 422.7 L361.2 422.5 L361.5 422.6 L361.8 422.2 L362.0 422.1 L362.2 422.0 L362.5 422.4 L362.8 422.2 L363.0 423.0 L363.2 423.1 L363.5 422.3 L363.8 422.8 L364.0 423.1 L364.2 422.3 L364.5 422.5 L364.8 422.3 L365.0 422.7 L365.2 423.2 L365.5 422.0 L365.8 423.2 L366.0 423.0 L366.2 423.3 L366.5 423.2 L366.8 423.5 L367.0 422.5 L367.2 423.3 L367.5 422.5 L367.8 422.9 L368.0 423.1 L368.2 422.2 L368.5 422.0 L368.8 423.2 L369.0 423.4 L369.2 423.0 L369.5 422.5 L369.8 423.0 L370.0 422.1 L370.2 423.2 L370.5 423.1 L370.8 423.2 L371.0 422.9 L371.2 422.4 L371.5 423.3 L371.8 422.9 L372.0 423.3 L372.2 422.6 L372.5 422.0 L372.8 422.6 L373.0 422.8 L373.2 423.5 L373.5 423.4 L373.8 422.0 L374.0 423.2 L374.2 422.4 L374.5 423.3 L374.8 422.8 L375.0 422.6 L375.2 422.9 L375.5 423.1 L375.8 423.3 L376.0 423.2 L376.2 423.3 L376.5 422.8 L376.8 423.3 L377.0 422.7 L377.2 423.1 L377.5 422.8 L377.8 423.2 L378.0 422.3 L378.2 423.1 L378.5 422.6 L378.8 422.8 L379.0 422.4 L379.2 423.3 L379.5 423.6 L379.8 422.4 L380.0 421.9 L380.2 422.7 L380.5 422.1 L380.8 423.4 L381.0 422.2 L381.2 422.6 L381.5 422.8 L381.8 422.3 L382.0 422.5 L382.2 422.5 L382.5 423.1 L382.8 423.4 L383.0 422.4 L383.2 423.1 L383.5 422.2 L383.8 423.0 L384.0 422.8 L384.2 422.6 L384.5 423.5 L384.8 423.6 L385.0 422.7 L385.2 423.0 L385.5 424.0 L385.8 424.3 L386.0 424.0 L386.2 424.1 L386.5 423.9 L386.8 423.2 L387.0 422.8 L387.2 421.9 L387.5 421.6 L387.8 422.4 L388.0 423.3 L388.2 422.8 L388.5 423.4 L388.8 423.2 L389.0 424.6 L389.2 423.8 L389.5 424.2 L389.8 422.9 L390.0 423.2 L390.2 422.7 L390.5 422.0 L390.8 421.7 L391.0 422.4 L391.2 423.3 L391.5 422.8 L391.8 422.9 L392.0 424.0 L392.2 423.4 L392.5 424.1 L392.8 424.1 L393.0 424.0 L393.2 423.8 L393.5 423.2 L393.8 422.2 L394.0 423.1 L394.2 423.0 L394.5 423.0 L394.8 422.9 L395.0 423.1 L395.2 422.2 L395.5 422.8 L395.8 422.7 L396.0 422.5 L396.2 422.4 L396.5 422.2 L396.8 422.8 L397.0 422.5 L397.2 422.6 L397.5 423.3 L397.8 423.0 L398.0 422.9 L398.2 423.6 L398.5 422.3 L398.8 422.6 L399.0 421.9 L399.2 422.5 L399.5 423.3 L399.8 421.9 L400.0 423.0 L400.2 423.0 L400.5 422.6 L400.8 423.2 L401.0 422.8 L401.2 422.6 L401.5 422.9 L401.8 422.3 L402.0 422.5 L402.2 422.5 L402.5 423.5 L402.8 422.4 L403.0 422.2 L403.2 423.4 L403.5 422.2 L403.8 423.6 L404.0 423.2 L404.2 422.9 L404.5 422.6 L404.8 422.2 L405.0 422.1 L405.2 422.1 L405.5 422.3 L405.8 422.5 L406.0 423.4 L406.2 422.8 L406.5 423.5 L406.8 423.0 L407.0 422.1 L407.2 422.7 L407.5 422.1 L407.8 421.8 L408.0 423.3 L408.2 422.4 L408.5 422.3 L408.8 422.2 L409.0 423.1 L409.2 422.9 L409.5 422.0 L409.8 423.3 L410.0 422.6 L410.2 423.5 L410.5 422.9 L410.8 422.8 L411.0 422.8 L411.2 423.2 L411.5 423.8 L411.8 423.4 L412.0 422.2 L412.2 422.8 L412.5 422.3 L412.8 422.3 L413.0 422.3 L413.2 422.4 L413.5 423.6 L413.8 423.3 L414.0 423.4 L414.2 423.1 L414.5 422.5 L414.8 422.6 L415.0 422.7 L415.2 422.5 L415.5 422.5 L415.8 422.9 L416.0 421.9 L416.2 422.3 L416.5 422.7 L416.8 423.0 L417.0 422.9 L417.2 423.2 L417.5 422.2 L417.8 422.4 L418.0 422.7 L418.2 422.6 L418.5 423.4 L418.8 423.8 L419.0 423.3 L419.2 422.1 L419.5 422.5 L419.8 423.4 L420.0 423.6 L420.2 423.2 L420.5 422.7 L420.8 422.8 L421.0 423.2 L421.2 423.7 L421.5 422.9 L421.8 422.5 L422.0 422.1 L422.2 422.2 L422.5 423.2 L422.8 422.8 L423.0 423.3 L423.2 421.7 L423.5 422.2 L423.8 423.0 L424.0 422.7 L424.2 421.9 L424.5 422.6 L424.8 423.0 L425.0 423.3 L425.2 423.0 L425.5 422.5 L425.8 423.8 L426.0 422.9 L426.2 423.2 L426.5 422.8 L426.8 422.2 L427.0 422.3 L427.2 422.1 L427.5 422.5 L427.8 422.7 L428.0 423.4 L428.2 423.5 L428.5 423.6 L428.8 424.5 L429.0 423.4 L429.2 423.6 L429.5 424.8 L429.8 424.5 L430.0 424.4 L430.2 424.1 L430.5 424.8 L430.8 424.5 L431.0 425.2 L431.2 425.0 L431.5 424.0 L431.8 423.2 L432.0 424.3 L432.2 423.1 L432.5 422.9 L432.8 422.0 L433.0 421.0 L433.2 420.0 L433.5 419.4 L433.8 421.6 L434.0 422.7 L434.2 424.0 L434.5 425.8 L434.8 426.8 L435.0 426.7 L435.2 426.4 L435.5 424.7 L435.8 424.1 L436.0 423.8 L436.2 423.8 L436.5 424.6 L436.8 424.6 L437.0 424.6 L437.2 424.1 L437.5 424.0 L437.8 423.2 L438.0 423.5 L438.2 422.8 L438.5 424.1 L438.8 423.2 L439.0 422.7 L439.2 423.0 L439.5 423.0 L439.8 423.5 L440.0 422.2 L440.2 422.5 L440.5 423.7 L440.8 423.6 L441.0 423.1 L441.2 423.0 L441.5 422.3 L441.8 423.3 L442.0 423.1 L442.2 422.5 L442.5 421.9 L442.8 421.7 L443.0 421.9 L443.2 421.7 L443.5 421.3 L443.8 421.8 L444.0 421.8 L444.2 421.5 L444.5 421.6 L444.8 421.4 L445.0 421.6 L445.2 422.3 L445.5 422.0 L445.8 421.6 L446.0 422.6 L446.2 422.2 L446.5 422.1 L446.8 422.8 L447.0 422.9 L447.2 423.0 L447.5 423.0 L447.8 422.9 L448.0 423.0 L448.2 422.3 L448.5 423.2 L448.8 422.5 L449.0 422.4 L449.2 422.3 L449.5 423.0 L449.8 422.4 L450.0 423.4 L450.2 423.5 L450.5 423.7 L450.8 422.8 L451.0 423.8 L451.2 424.2 L451.5 423.1 L451.8 423.5 L452.0 423.9 L452.2 424.4 L452.5 424.1 L452.8 424.9 L453.0 424.8 L453.2 425.0 L453.5 424.6 L453.8 424.7 L454.0 423.9 L454.2 424.6 L454.5 424.4 L454.8 424.2 L455.0 423.1 L455.2 424.5 L455.5 423.8 L455.8 423.1 L456.0 423.4 L456.2 423.3 L456.5 423.1 L456.8 422.6 L457.0 422.5 L457.2 422.6 L457.5 423.2 L457.8 422.7 L458.0 422.0 L458.2 422.8 L458.5 422.4 L458.8 422.1 L459.0 423.6 L459.2 422.6 L459.5 423.0 L459.8 422.7 L460.0 422.2 L460.2 423.5 L460.5 423.5 L460.8 422.3 L461.0 422.7 L461.2 422.6 L461.5 422.3 L461.8 423.0 L462.0 423.1 L462.2 423.1 L462.5 423.0 L462.8 421.9 L463.0 422.2 L463.2 422.7 L463.5 423.0 L463.8 422.6 L464.0 422.6 L464.2 423.2 L464.5 421.9 L464.8 422.2 L465.0 422.2 L465.2 423.2 L465.5 422.1 L465.8 421.8 L466.0 422.5 L466.2 422.9 L466.5 422.2 L466.8 423.3 L467.0 422.4 L467.2 423.3 L467.5 422.4 L467.8 423.4 L468.0 422.4 L468.2 423.1 L468.5 423.2 L468.8 422.1 L469.0 421.9 L469.2 422.7 L469.5 422.6 L469.8 422.6 L470.0 423.0 L470.2 422.3 L470.5 422.4 L470.8 422.3 L471.0 421.6 L471.2 420.7 L471.5 419.6 L471.8 419.0 L472.0 418.2 L472.2 419.8 L472.5 423.8 L472.8 425.9 L473.0 427.6 L473.2 427.0 L473.5 425.4 L473.8 424.2 L474.0 423.2 L474.2 422.6 L474.5 423.0 L474.8 423.5 L475.0 423.3 L475.2 422.6 L475.5 422.7 L475.8 422.8 L476.0 422.4 L476.2 423.6 L476.5 422.3 L476.8 422.6 L477.0 423.3 L477.2 423.1 L477.5 422.6 L477.8 423.6 L478.0 422.9 L478.2 423.1 L478.5 422.2 L478.8 423.5 L479.0 422.1 L479.2 422.6 L479.5 423.4 L479.8 423.4 L480.0 423.3 L480.2 423.2 L480.5 422.2 L480.8 421.7 L481.0 422.6 L481.2 422.1 L481.5 423.6 L481.8 422.2 L482.0 422.7 L482.2 422.5 L482.5 422.1 L482.8 423.0 L483.0 422.3 L483.2 423.7 L483.5 423.4 L483.8 422.9 L484.0 423.7 L484.2 423.6 L484.5 422.8 L484.8 423.6 L485.0 423.6 L485.2 423.0 L485.5 422.5 L485.8 423.5 L486.0 423.5 L486.2 422.7 L486.5 422.3 L486.8 423.6 L487.0 423.4 L487.2 422.6 L487.5 423.2 L487.8 422.7 L488.0 423.6 L488.2 422.7 L488.5 422.6 L488.8 422.3 L489.0 422.7 L489.2 423.7 L489.5 422.5 L489.8 422.8 L490.0 423.7 L490.2 422.1 L490.5 422.5 L490.8 423.4 L491.0 422.1 L491.2 423.6 L491.5 423.4 L491.8 422.5 L492.0 423.1 L492.2 423.1 L492.5 423.4 L492.8 422.8 L493.0 423.1 L493.2 422.6 L493.5 422.7 L493.8 422.4 L494.0 423.4 L494.2 423.3 L494.5 422.3 L494.8 422.9 L495.0 422.3 L495.2 422.0 L495.5 422.0 L495.8 423.0 L496.0 421.9 L496.2 422.3 L496.5 422.8 L496.8 421.6 L497.0 422.7 L497.2 421.6 L497.5 422.7 L497.8 422.8 L498.0 422.9 L498.2 423.2 L498.5 422.9 L498.8 423.4 L499.0 422.2 L499.2 422.5 L499.5 422.0 L499.8 422.2 L500.0 423.0 L500.2 423.7 L500.5 424.1 L500.8 423.1 L501.0 424.9 L501.2 424.2 L501.5 424.1 L501.8 424.9 L502.0 424.6 L502.2 424.1 L502.5 423.4 L502.8 423.3 L503.0 423.7 L503.2 422.8 L503.5 423.4 L503.8 423.3 L504.0 422.9 L504.2 423.6 L504.5 422.7 L504.8 423.4 L505.0 423.3 L505.2 422.8 L505.5 423.0 L505.8 423.0 L506.0 423.1 L506.2 422.4 L506.5 423.8 L506.8 423.9 L507.0 422.2 L507.2 423.8 L507.5 423.1 L507.8 422.5 L508.0 423.5 L508.2 422.9 L508.5 423.3 L508.8 423.3 L509.0 422.8 L509.2 422.0 L509.5 423.2 L509.8 423.0 L510.0 423.3 L510.2 422.2 L510.5 423.1 L510.8 423.3 L511.0 422.6 L511.2 422.7 L511.5 422.6 L511.8 421.9 L512.0 422.4 L512.2 422.6 L512.5 422.2 L512.8 423.2 L513.0 422.5 L513.2 422.6 L513.5 422.1 L513.8 422.4 L514.0 423.0 L514.2 422.5 L514.5 422.6 L514.8 422.5 L515.0 422.8 L515.2 423.5 L515.5 422.6 L515.8 422.8 L516.0 423.0 L516.2 422.1 L516.5 423.5 L516.8 422.7 L517.0 422.3 L517.2 423.0 L517.5 423.2 L517.8 423.0 L518.0 423.4 L518.2 421.8 L518.5 422.5 L518.8 422.8 L519.0 423.0 L519.2 422.6 L519.5 422.5 L519.8 422.1 L520.0 422.5 L520.2 422.7 L520.5 423.2 L520.8 423.3 L521.0 423.1 L521.2 423.3 L521.5 421.8 L521.8 423.0 L522.0 422.5 L522.2 422.8 L522.5 422.1 L522.8 422.3 L523.0 422.9 L523.2 421.7 L523.5 422.3 L523.8 422.6 L524.0 423.1 L524.2 422.2 L524.5 423.1 L524.8 422.2 L525.0 422.3 L525.2 422.9 L525.5 422.9 L525.8 423.3 L526.0 423.5 L526.2 422.5 L526.5 423.2 L526.8 423.0 L527.0 422.6 L527.2 423.1 L527.5 423.3 L527.8 422.6 L528.0 423.3 L528.2 422.1 L528.5 422.1 L528.8 423.1 L529.0 422.3 L529.2 422.5 L529.5 421.6 L529.8 420.1 L530.0 420.1 L530.2 421.6 L530.5 422.4 L530.8 424.2 L531.0 425.7 L531.2 424.6 L531.5 423.4 L531.8 421.7 L532.0 421.7 L532.2 422.5 L532.5 422.6 L532.8 423.6 L533.0 422.9 L533.2 422.6 L533.5 422.7 L533.8 422.1 L534.0 422.5 L534.2 422.9 L534.5 422.9 L534.8 423.3 L535.0 423.3 L535.2 422.9 L535.5 423.5 L535.8 422.8 L536.0 423.4 L536.2 422.6 L536.5 423.0 L536.8 423.7 L537.0 423.0 L537.2 422.9 L537.5 423.4 L537.8 422.6 L538.0 423.3 L538.2 422.0 L538.5 422.4 L538.8 422.4 L539.0 422.4 L539.2 423.5 L539.5 422.0 L539.8 422.4 L540.0 422.9 L540.2 423.2 L540.5 423.5 L540.8 422.8 L541.0 422.6 L541.2 423.5 L541.5 422.4 L541.8 422.3 L542.0 422.6 L542.2 422.9 L542.5 423.5 L542.8 423.1 L543.0 422.8 L543.2 422.9 L543.5 423.2 L543.8 423.0 L544.0 422.4 L544.2 422.0 L544.5 422.1 L544.8 423.1 L545.0 422.9 L545.2 423.0 L545.5 421.8 L545.8 423.2 L546.0 422.3 L546.2 423.2 L546.5 422.7 L546.8 422.7 L547.0 423.0 L547.2 422.8 L547.5 422.9 L547.8 422.2 L548.0 423.0 L548.2 422.6 L548.5 422.2 L548.8 422.3 L549.0 422.9 L549.2 422.6 L549.5 423.5 L549.8 422.6 L550.0 422.5 L550.2 424.2 L550.5 423.2 L550.8 423.4 L551.0 423.1 L551.2 423.1 L551.5 423.3 L551.8 424.2 L552.0 422.9 L552.2 424.2 L552.5 424.6 L552.8 423.9 L553.0 423.6 L553.2 423.2 L553.5 423.1 L553.8 423.1 L554.0 423.9 L554.2 422.6 L554.5 423.9 L554.8 423.8 L555.0 422.8 L555.2 422.9 L555.5 424.0 L555.8 423.8 L556.0 423.1 L556.2 424.0 L556.5 422.9 L556.8 423.1 L557.0 422.5 L557.2 423.5 L557.5 422.5 L557.8 422.8 L558.0 423.7 L558.2 423.3 L558.5 423.5 L558.8 423.8 L559.0 423.6 L559.2 422.9 L559.5 423.8 L559.8 422.9 L560.0 423.3 L560.2 423.7 L560.5 423.2 L560.8 423.1 L561.0 424.0 L561.2 424.2 L561.5 423.7 L561.8 424.0 L562.0 423.7 L562.2 424.2 L562.5 424.3 L562.8 424.8 L563.0 423.4 L563.2 424.7 L563.5 424.6 L563.8 423.4 L564.0 423.9 L564.2 423.9 L564.5 423.6 L564.8 422.9 L565.0 423.2 L565.2 423.4 L565.5 422.1 L565.8 422.7 L566.0 422.0 L566.2 423.2 L566.5 422.7 L566.8 421.3 L567.0 422.3 L567.2 422.1 L567.5 421.0 L567.8 421.3 L568.0 421.4 L568.2 420.6 L568.5 420.8 L568.8 421.3 L569.0 421.6 L569.2 422.3 L569.5 422.7 L569.8 423.9 L570.0 425.9 L570.2 426.6 L570.5 426.2 L570.8 425.0 L571.0 423.9 L571.2 423.1 L571.5 422.4 L571.8 422.2 L572.0 423.1 L572.2 423.6 L572.5 424.5 L572.8 423.7 L573.0 423.2 L573.2 423.0 L573.5 422.9 L573.8 423.8 L574.0 423.2 L574.2 423.2 L574.5 422.6 L574.8 421.8 L575.0 422.4 L575.2 423.1 L575.5 422.4 L575.8 422.7 L576.0 422.6 L576.2 422.2 L576.5 423.0 L576.8 422.8 L577.0 422.6 L577.2 422.4 L577.5 423.2 L577.8 422.6 L578.0 422.9 L578.2 422.3 L578.5 423.0 L578.8 422.4 L579.0 422.6 L579.2 423.3 L579.5 422.8 L579.8 422.9 L580.0 422.2 L580.2 423.0 L580.5 422.4 L580.8 423.5 L581.0 423.3 L581.2 423.0 L581.5 423.4 L581.8 422.8 L582.0 423.2 L582.2 422.2 L582.5 423.4 L582.8 423.1 L583.0 422.0 L583.2 422.2 L583.5 422.7 L583.8 423.0 L584.0 422.0 L584.2 423.5 L584.5 422.6 L584.8 423.8 L585.0 423.4 L585.2 422.8 L585.5 422.5 L585.8 422.3 L586.0 422.3 L586.2 423.0 L586.5 423.2 L586.8 423.3 L587.0 422.3 L587.2 423.3 L587.5 422.5 L587.8 423.6 L588.0 423.5 L588.2 422.4 L588.5 423.5 L588.8 423.2 L589.0 423.2 L589.2 423.5 L589.5 422.9 L589.8 422.8 L590.0 422.7 L590.2 423.3 L590.5 423.3 L590.8 422.3 L591.0 423.4 L591.2 422.5 L591.5 422.3 L591.8 422.2 L592.0 422.8 L592.2 422.3 L592.5 422.4 L592.8 422.1 L593.0 422.5 L593.2 423.3 L593.5 422.3 L593.8 423.0 L594.0 423.0 L594.2 422.2 L594.5 422.4 L594.8 423.3 L595.0 423.4 L595.2 423.2 L595.5 422.0 L595.8 423.0 L596.0 422.4 L596.2 422.1 L596.5 422.9 L596.8 423.9 L597.0 423.9 L597.2 423.3 L597.5 423.1 L597.8 424.5 L598.0 425.0 L598.2 424.3 L598.5 423.8 L598.8 424.5 L599.0 424.9 L599.2 424.7 L599.5 424.5 L599.8 424.2 L600.0 424.0 L600.2 423.5 L600.5 423.7 L600.8 424.4 L601.0 422.6 L601.2 423.5 L601.5 423.4 L601.8 422.5 L602.0 422.6 L602.2 421.9 L602.5 422.5 L602.8 422.5 L603.0 422.4 L603.2 421.8 L603.5 422.6 L603.8 422.5 L604.0 421.9 L604.2 422.2 L604.5 421.6 L604.8 422.8 L605.0 422.4 L605.2 422.9 L605.5 422.0 L605.8 423.2 L606.0 421.9 L606.2 422.6 L606.5 422.1 L606.8 422.3 L607.0 423.3 L607.2 422.1 L607.5 422.5 L607.8 422.2 L608.0 423.2 L608.2 421.9 L608.5 422.2 L608.8 422.9 L609.0 422.6 L609.2 422.8 L609.5 423.3 L609.8 421.7 L610.0 422.7 L610.2 422.8 L610.5 423.0 L610.8 423.0 L611.0 422.0 L611.2 422.0 L611.5 423.1 L611.8 422.9 L612.0 422.5 L612.2 422.0 L612.5 422.9 L612.8 422.3 L613.0 423.6 L613.2 423.0 L613.5 423.8 L613.8 422.7 L614.0 423.4 L614.2 422.9 L614.5 424.1 L614.8 424.0 L615.0 423.4 L615.2 424.7 L615.5 424.4 L615.8 424.0 L616.0 424.8 L616.2 424.1 L616.5 425.0 L616.8 423.7 L617.0 424.8 L617.2 423.2 L617.5 424.0 L617.8 423.2 L618.0 423.4 L618.2 423.5 L618.5 422.4 L618.8 422.5 L619.0 422.2 L619.2 423.2 L619.5 422.4 L619.8 422.7 L620.0 422.3 L620.2 422.1 L620.5 423.2 L620.8 422.7 L621.0 422.9 L621.2 423.0 L621.5 423.1 L621.8 422.2 L622.0 422.0 L622.2 422.7 L622.5 422.3 L622.8 422.0 L623.0 423.3 L623.2 422.9 L623.5 422.4 L623.8 422.0 L624.0 423.0 L624.2 422.9 L624.5 422.3 L624.8 423.5 L625.0 423.4 L625.2 423.4 L625.5 423.2 L625.8 422.7 L626.0 422.2 L626.2 422.4 L626.5 421.7 L626.8 422.5 L627.0 421.6 L627.2 421.4 L627.5 422.5 L627.8 421.8 L628.0 422.4 L628.2 422.6 L628.5 422.6 L628.8 422.2 L629.0 422.5 L629.2 422.2 L629.5 422.6 L629.8 422.7 L630.0 421.3 L630.2 421.7 L630.5 421.8 L630.8 421.6 L631.0 421.5 L631.2 422.7 L631.5 421.3 L631.8 421.5 L632.0 422.4 L632.2 421.5 L632.5 421.5 L632.8 422.6 L633.0 422.2 L633.2 421.7 L633.5 421.3 L633.8 421.5 L634.0 422.6 L634.2 422.2 L634.5 421.1 L634.8 422.1 L635.0 421.6" stroke="#0000ff" stroke-width="1.7" stroke-linejoin="round" fill="none"/>
</g>
<text x="43.2" y="472.2" text-anchor="middle" font-size="26">20</text><text x="117.0" y="472.2" text-anchor="middle" font-size="26">25</text><text x="190.8" y="472.2" text-anchor="middle" font-size="26">30</text><text x="264.6" y="472.2" text-anchor="middle" font-size="26">35</text><text x="338.3" y="472.2" text-anchor="middle" font-size="26">40</text><text x="412.1" y="472.2" text-anchor="middle" font-size="26">45</text><text x="485.9" y="472.2" text-anchor="middle" font-size="26">50</text><text x="559.7" y="472.2" text-anchor="middle" font-size="26">55</text><text x="633.5" y="472.2" text-anchor="middle" font-size="26">60</text>
<text x="251.3" y="511.4" font-size="33.5" textLength="158.5" lengthAdjust="spacingAndGlyphs">2θ (degree)</text>
<text transform="translate(23.7 327.4) rotate(-90)" font-size="33" textLength="214.5">Intensity (a.u.)</text>
<circle cx="453.4" cy="24.1" r="4.7"/>
<path d="M429.5 57.5H478.3" stroke="#ff0000" stroke-width="3"/>
<path d="M429.5 90.3H478.3" stroke="#0000ff" stroke-width="1.3"/>
<circle cx="453.9" cy="90.3" r="1.1" fill="#0000ff"/>
<path d="M453.7 118.7V128.8" stroke="#ff9a3c" stroke-width="1.6"/>
<text x="484" y="31.8" font-size="25.9">Oberved</text>
<text x="484" y="64.4" font-size="25.9">Simulated</text>
<text x="484" y="97.1" font-size="25.9">Different</text>
<text x="484" y="129.8" font-size="25.9">Braggs peak</text>
</svg></body></html>
